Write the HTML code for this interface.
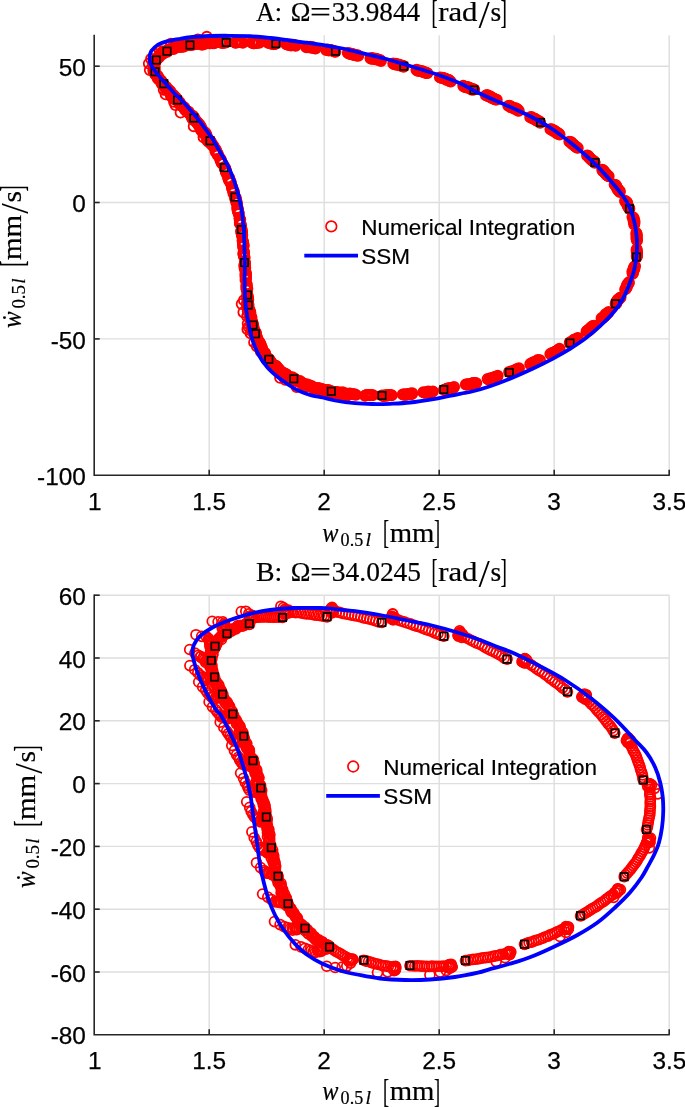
<!DOCTYPE html>
<html lang="en"><head><meta charset="utf-8"><title>Phase portraits</title>
<style>html,body{margin:0;padding:0;background:#fff}svg{display:block}</style></head>
<body>
<svg width="685" height="1107" viewBox="0 0 685 1107">
<rect width="685" height="1107" fill="#fff"/>
<g stroke="#dedede" stroke-width="1.4">
<line x1="209.2" y1="35.3" x2="209.2" y2="475.3"/>
<line x1="324.2" y1="35.3" x2="324.2" y2="475.3"/>
<line x1="439.2" y1="35.3" x2="439.2" y2="475.3"/>
<line x1="554.2" y1="35.3" x2="554.2" y2="475.3"/>
<line x1="669.2" y1="35.3" x2="669.2" y2="475.3"/>
<line x1="94.2" y1="66.2" x2="669.2" y2="66.2"/>
<line x1="94.2" y1="202.5" x2="669.2" y2="202.5"/>
<line x1="94.2" y1="338.9" x2="669.2" y2="338.9"/>
</g>
<g stroke="#262626" stroke-width="1.6" fill="none">
<path d="M94.2 34.7V475.3H669.8"/>
<line x1="209.2" y1="475.3" x2="209.2" y2="469.8"/>
<line x1="324.2" y1="475.3" x2="324.2" y2="469.8"/>
<line x1="439.2" y1="475.3" x2="439.2" y2="469.8"/>
<line x1="554.2" y1="475.3" x2="554.2" y2="469.8"/>
<line x1="669.2" y1="475.3" x2="669.2" y2="469.8"/>
<line x1="94.2" y1="66.2" x2="99.7" y2="66.2"/>
<line x1="94.2" y1="202.5" x2="99.7" y2="202.5"/>
<line x1="94.2" y1="338.9" x2="99.7" y2="338.9"/>
</g>
<clipPath id="ca"><rect x="94.2" y="28.3" width="575.0" height="447.0"/></clipPath>
<g clip-path="url(#ca)">
<g fill="none" stroke="#f00" stroke-width="1.8">
<circle cx="157.0" cy="59.3" r="5.05"/>
<circle cx="157.3" cy="58.4" r="5.05"/>
<circle cx="157.6" cy="57.5" r="5.05"/>
<circle cx="158.7" cy="57.2" r="5.05"/>
<circle cx="159.5" cy="56.7" r="5.05"/>
<circle cx="154.9" cy="53.8" r="5.05"/>
<circle cx="159.6" cy="55.5" r="5.05"/>
<circle cx="160.1" cy="54.5" r="5.05"/>
<circle cx="160.6" cy="53.6" r="5.05"/>
<circle cx="161.8" cy="53.5" r="5.05"/>
<circle cx="163.1" cy="53.9" r="5.05"/>
<circle cx="159.7" cy="50.9" r="5.05"/>
<circle cx="162.8" cy="51.5" r="5.05"/>
<circle cx="164.2" cy="52.0" r="5.05"/>
<circle cx="165.1" cy="51.6" r="5.05"/>
<circle cx="166.2" cy="51.7" r="5.05"/>
<circle cx="167.2" cy="51.7" r="5.05"/>
<circle cx="166.9" cy="50.9" r="5.05"/>
<circle cx="167.6" cy="50.1" r="5.05"/>
<circle cx="168.4" cy="49.4" r="5.05"/>
<circle cx="169.6" cy="49.7" r="5.05"/>
<circle cx="170.5" cy="49.2" r="5.05"/>
<circle cx="171.3" cy="48.4" r="5.05"/>
<circle cx="172.4" cy="48.7" r="5.05"/>
<circle cx="173.6" cy="49.1" r="5.05"/>
<circle cx="174.4" cy="48.2" r="5.05"/>
<circle cx="171.0" cy="43.8" r="5.05"/>
<circle cx="174.0" cy="47.0" r="5.05"/>
<circle cx="175.2" cy="47.4" r="5.05"/>
<circle cx="176.0" cy="46.7" r="5.05"/>
<circle cx="177.2" cy="47.0" r="5.05"/>
<circle cx="177.9" cy="45.8" r="5.05"/>
<circle cx="179.1" cy="46.6" r="5.05"/>
<circle cx="180.3" cy="47.0" r="5.05"/>
<circle cx="181.1" cy="46.2" r="5.05"/>
<circle cx="182.1" cy="46.1" r="5.05"/>
<circle cx="176.0" cy="44.3" r="5.05"/>
<circle cx="182.2" cy="46.5" r="5.05"/>
<circle cx="183.3" cy="46.9" r="5.05"/>
<circle cx="184.1" cy="45.8" r="5.05"/>
<circle cx="185.1" cy="45.7" r="5.05"/>
<circle cx="186.0" cy="45.3" r="5.05"/>
<circle cx="187.0" cy="45.1" r="5.05"/>
<circle cx="187.9" cy="44.4" r="5.05"/>
<circle cx="188.9" cy="44.7" r="5.05"/>
<circle cx="190.0" cy="45.1" r="5.05"/>
<circle cx="189.9" cy="44.5" r="5.05"/>
<circle cx="191.0" cy="45.1" r="5.05"/>
<circle cx="191.8" cy="44.3" r="5.05"/>
<circle cx="192.7" cy="44.3" r="5.05"/>
<circle cx="193.7" cy="44.6" r="5.05"/>
<circle cx="194.6" cy="43.8" r="5.05"/>
<circle cx="195.4" cy="42.9" r="5.05"/>
<circle cx="196.4" cy="43.5" r="5.05"/>
<circle cx="197.4" cy="44.0" r="5.05"/>
<circle cx="198.2" cy="42.9" r="5.05"/>
<circle cx="199.2" cy="43.0" r="5.05"/>
<circle cx="200.2" cy="43.8" r="5.05"/>
<circle cx="201.1" cy="44.1" r="5.05"/>
<circle cx="202.1" cy="44.1" r="5.05"/>
<circle cx="197.8" cy="39.5" r="5.05"/>
<circle cx="202.1" cy="44.7" r="5.05"/>
<circle cx="203.0" cy="44.1" r="5.05"/>
<circle cx="203.9" cy="44.0" r="5.05"/>
<circle cx="204.7" cy="41.9" r="5.05"/>
<circle cx="205.8" cy="43.6" r="5.05"/>
<circle cx="206.7" cy="43.1" r="5.05"/>
<circle cx="207.6" cy="42.6" r="5.05"/>
<circle cx="208.5" cy="42.1" r="5.05"/>
<circle cx="209.5" cy="43.2" r="5.05"/>
<circle cx="210.4" cy="43.4" r="5.05"/>
<circle cx="211.3" cy="42.8" r="5.05"/>
<circle cx="212.3" cy="43.4" r="5.05"/>
<circle cx="213.2" cy="42.3" r="5.05"/>
<circle cx="214.2" cy="43.3" r="5.05"/>
<circle cx="206.8" cy="36.8" r="5.05"/>
<circle cx="219.7" cy="42.2" r="5.05"/>
<circle cx="220.7" cy="42.4" r="5.05"/>
<circle cx="221.6" cy="42.9" r="5.05"/>
<circle cx="222.5" cy="42.7" r="5.05"/>
<circle cx="223.5" cy="42.9" r="5.05"/>
<circle cx="224.4" cy="42.2" r="5.05"/>
<circle cx="225.3" cy="42.5" r="5.05"/>
<circle cx="226.2" cy="42.2" r="5.05"/>
<circle cx="235.0" cy="42.6" r="5.05"/>
<circle cx="236.0" cy="42.7" r="5.05"/>
<circle cx="236.9" cy="42.0" r="5.05"/>
<circle cx="237.9" cy="41.8" r="5.05"/>
<circle cx="238.9" cy="42.0" r="5.05"/>
<circle cx="239.9" cy="42.0" r="5.05"/>
<circle cx="240.8" cy="42.0" r="5.05"/>
<circle cx="241.8" cy="42.1" r="5.05"/>
<circle cx="242.8" cy="42.7" r="5.05"/>
<circle cx="251.5" cy="42.5" r="5.05"/>
<circle cx="252.5" cy="42.7" r="5.05"/>
<circle cx="253.4" cy="43.2" r="5.05"/>
<circle cx="254.4" cy="43.2" r="5.05"/>
<circle cx="255.4" cy="42.9" r="5.05"/>
<circle cx="256.4" cy="43.0" r="5.05"/>
<circle cx="257.3" cy="42.5" r="5.05"/>
<circle cx="258.3" cy="42.2" r="5.05"/>
<circle cx="259.3" cy="42.8" r="5.05"/>
<circle cx="268.0" cy="42.7" r="5.05"/>
<circle cx="269.0" cy="42.7" r="5.05"/>
<circle cx="270.0" cy="42.8" r="5.05"/>
<circle cx="270.9" cy="43.6" r="5.05"/>
<circle cx="271.9" cy="43.8" r="5.05"/>
<circle cx="272.8" cy="43.9" r="5.05"/>
<circle cx="273.8" cy="44.0" r="5.05"/>
<circle cx="274.8" cy="44.0" r="5.05"/>
<circle cx="275.8" cy="43.6" r="5.05"/>
<circle cx="286.4" cy="44.2" r="5.05"/>
<circle cx="287.3" cy="44.4" r="5.05"/>
<circle cx="288.2" cy="44.9" r="5.05"/>
<circle cx="289.2" cy="44.8" r="5.05"/>
<circle cx="290.1" cy="44.7" r="5.05"/>
<circle cx="291.0" cy="45.6" r="5.05"/>
<circle cx="292.0" cy="45.0" r="5.05"/>
<circle cx="293.0" cy="44.8" r="5.05"/>
<circle cx="293.9" cy="45.1" r="5.05"/>
<circle cx="294.8" cy="45.2" r="5.05"/>
<circle cx="295.7" cy="45.7" r="5.05"/>
<circle cx="306.3" cy="47.3" r="5.05"/>
<circle cx="307.3" cy="46.6" r="5.05"/>
<circle cx="308.2" cy="47.3" r="5.05"/>
<circle cx="309.2" cy="46.9" r="5.05"/>
<circle cx="310.1" cy="46.8" r="5.05"/>
<circle cx="311.0" cy="47.6" r="5.05"/>
<circle cx="311.9" cy="47.7" r="5.05"/>
<circle cx="312.9" cy="47.2" r="5.05"/>
<circle cx="313.8" cy="47.6" r="5.05"/>
<circle cx="314.7" cy="48.4" r="5.05"/>
<circle cx="315.6" cy="48.6" r="5.05"/>
<circle cx="326.1" cy="50.1" r="5.05"/>
<circle cx="327.2" cy="49.4" r="5.05"/>
<circle cx="328.1" cy="49.6" r="5.05"/>
<circle cx="328.9" cy="50.6" r="5.05"/>
<circle cx="330.0" cy="49.9" r="5.05"/>
<circle cx="330.9" cy="49.9" r="5.05"/>
<circle cx="331.8" cy="50.4" r="5.05"/>
<circle cx="332.7" cy="50.9" r="5.05"/>
<circle cx="333.7" cy="50.9" r="5.05"/>
<circle cx="334.5" cy="51.5" r="5.05"/>
<circle cx="335.4" cy="51.8" r="5.05"/>
<circle cx="347.8" cy="52.9" r="5.05"/>
<circle cx="348.6" cy="53.4" r="5.05"/>
<circle cx="349.5" cy="53.8" r="5.05"/>
<circle cx="350.4" cy="53.5" r="5.05"/>
<circle cx="351.2" cy="54.2" r="5.05"/>
<circle cx="352.2" cy="53.9" r="5.05"/>
<circle cx="353.1" cy="54.1" r="5.05"/>
<circle cx="353.9" cy="55.0" r="5.05"/>
<circle cx="354.8" cy="55.1" r="5.05"/>
<circle cx="355.7" cy="55.3" r="5.05"/>
<circle cx="356.6" cy="55.5" r="5.05"/>
<circle cx="357.5" cy="55.3" r="5.05"/>
<circle cx="358.3" cy="55.8" r="5.05"/>
<circle cx="370.5" cy="58.2" r="5.05"/>
<circle cx="371.3" cy="58.7" r="5.05"/>
<circle cx="372.4" cy="58.0" r="5.05"/>
<circle cx="373.1" cy="58.8" r="5.05"/>
<circle cx="374.0" cy="58.9" r="5.05"/>
<circle cx="375.0" cy="58.9" r="5.05"/>
<circle cx="375.9" cy="58.8" r="5.05"/>
<circle cx="376.7" cy="59.5" r="5.05"/>
<circle cx="377.7" cy="59.2" r="5.05"/>
<circle cx="378.5" cy="59.9" r="5.05"/>
<circle cx="379.4" cy="60.0" r="5.05"/>
<circle cx="380.3" cy="60.2" r="5.05"/>
<circle cx="381.0" cy="61.0" r="5.05"/>
<circle cx="393.2" cy="63.5" r="5.05"/>
<circle cx="394.0" cy="64.0" r="5.05"/>
<circle cx="394.8" cy="64.4" r="5.05"/>
<circle cx="395.9" cy="63.8" r="5.05"/>
<circle cx="396.6" cy="64.7" r="5.05"/>
<circle cx="397.6" cy="64.6" r="5.05"/>
<circle cx="398.5" cy="64.5" r="5.05"/>
<circle cx="399.4" cy="65.0" r="5.05"/>
<circle cx="400.2" cy="65.5" r="5.05"/>
<circle cx="401.1" cy="65.5" r="5.05"/>
<circle cx="402.0" cy="65.7" r="5.05"/>
<circle cx="403.0" cy="65.7" r="5.05"/>
<circle cx="403.6" cy="66.7" r="5.05"/>
<circle cx="416.4" cy="69.8" r="5.05"/>
<circle cx="417.2" cy="70.5" r="5.05"/>
<circle cx="418.1" cy="70.7" r="5.05"/>
<circle cx="419.2" cy="70.4" r="5.05"/>
<circle cx="420.1" cy="71.0" r="5.05"/>
<circle cx="421.0" cy="71.2" r="5.05"/>
<circle cx="422.0" cy="71.3" r="5.05"/>
<circle cx="423.0" cy="71.4" r="5.05"/>
<circle cx="423.7" cy="72.2" r="5.05"/>
<circle cx="424.7" cy="72.3" r="5.05"/>
<circle cx="425.6" cy="72.7" r="5.05"/>
<circle cx="426.5" cy="73.0" r="5.05"/>
<circle cx="427.5" cy="73.1" r="5.05"/>
<circle cx="439.9" cy="77.4" r="5.05"/>
<circle cx="440.9" cy="77.6" r="5.05"/>
<circle cx="441.7" cy="78.0" r="5.05"/>
<circle cx="442.8" cy="77.8" r="5.05"/>
<circle cx="443.7" cy="78.4" r="5.05"/>
<circle cx="444.7" cy="78.5" r="5.05"/>
<circle cx="445.6" cy="78.7" r="5.05"/>
<circle cx="446.2" cy="79.8" r="5.05"/>
<circle cx="447.3" cy="79.8" r="5.05"/>
<circle cx="448.3" cy="79.7" r="5.05"/>
<circle cx="449.2" cy="80.1" r="5.05"/>
<circle cx="449.8" cy="81.2" r="5.05"/>
<circle cx="450.8" cy="81.6" r="5.05"/>
<circle cx="463.2" cy="85.8" r="5.05"/>
<circle cx="463.9" cy="86.5" r="5.05"/>
<circle cx="464.9" cy="86.7" r="5.05"/>
<circle cx="465.7" cy="87.2" r="5.05"/>
<circle cx="466.9" cy="86.9" r="5.05"/>
<circle cx="467.8" cy="87.1" r="5.05"/>
<circle cx="468.8" cy="87.4" r="5.05"/>
<circle cx="469.4" cy="88.6" r="5.05"/>
<circle cx="470.5" cy="88.3" r="5.05"/>
<circle cx="471.4" cy="88.7" r="5.05"/>
<circle cx="472.0" cy="89.7" r="5.05"/>
<circle cx="473.3" cy="89.2" r="5.05"/>
<circle cx="474.2" cy="89.5" r="5.05"/>
<circle cx="485.9" cy="95.4" r="5.05"/>
<circle cx="487.2" cy="95.0" r="5.05"/>
<circle cx="487.8" cy="96.0" r="5.05"/>
<circle cx="488.7" cy="96.3" r="5.05"/>
<circle cx="489.8" cy="96.1" r="5.05"/>
<circle cx="490.6" cy="96.7" r="5.05"/>
<circle cx="491.2" cy="97.8" r="5.05"/>
<circle cx="492.2" cy="97.9" r="5.05"/>
<circle cx="493.1" cy="98.2" r="5.05"/>
<circle cx="493.9" cy="98.8" r="5.05"/>
<circle cx="494.8" cy="99.3" r="5.05"/>
<circle cx="495.7" cy="99.6" r="5.05"/>
<circle cx="496.8" cy="99.6" r="5.05"/>
<circle cx="508.3" cy="105.9" r="5.05"/>
<circle cx="509.4" cy="105.7" r="5.05"/>
<circle cx="510.2" cy="106.3" r="5.05"/>
<circle cx="510.9" cy="107.2" r="5.05"/>
<circle cx="511.9" cy="107.2" r="5.05"/>
<circle cx="512.9" cy="107.4" r="5.05"/>
<circle cx="513.7" cy="107.9" r="5.05"/>
<circle cx="514.3" cy="108.8" r="5.05"/>
<circle cx="515.7" cy="108.3" r="5.05"/>
<circle cx="516.5" cy="108.9" r="5.05"/>
<circle cx="517.4" cy="109.2" r="5.05"/>
<circle cx="517.8" cy="110.5" r="5.05"/>
<circle cx="518.8" cy="110.8" r="5.05"/>
<circle cx="530.2" cy="117.2" r="5.05"/>
<circle cx="531.5" cy="116.9" r="5.05"/>
<circle cx="532.0" cy="117.9" r="5.05"/>
<circle cx="532.8" cy="118.5" r="5.05"/>
<circle cx="533.8" cy="118.7" r="5.05"/>
<circle cx="534.9" cy="118.7" r="5.05"/>
<circle cx="535.7" cy="119.2" r="5.05"/>
<circle cx="536.2" cy="120.3" r="5.05"/>
<circle cx="537.0" cy="120.9" r="5.05"/>
<circle cx="538.3" cy="120.6" r="5.05"/>
<circle cx="538.9" cy="121.4" r="5.05"/>
<circle cx="539.8" cy="121.8" r="5.05"/>
<circle cx="540.2" cy="122.9" r="5.05"/>
<circle cx="550.4" cy="129.2" r="5.05"/>
<circle cx="551.6" cy="129.1" r="5.05"/>
<circle cx="552.3" cy="129.9" r="5.05"/>
<circle cx="552.9" cy="130.8" r="5.05"/>
<circle cx="554.2" cy="130.4" r="5.05"/>
<circle cx="554.8" cy="131.2" r="5.05"/>
<circle cx="555.8" cy="131.6" r="5.05"/>
<circle cx="556.1" cy="132.9" r="5.05"/>
<circle cx="557.4" cy="132.6" r="5.05"/>
<circle cx="557.7" cy="133.9" r="5.05"/>
<circle cx="559.0" cy="133.7" r="5.05"/>
<circle cx="559.6" cy="134.6" r="5.05"/>
<circle cx="569.3" cy="141.6" r="5.05"/>
<circle cx="570.2" cy="141.9" r="5.05"/>
<circle cx="571.3" cy="142.1" r="5.05"/>
<circle cx="571.6" cy="143.3" r="5.05"/>
<circle cx="572.3" cy="144.0" r="5.05"/>
<circle cx="573.3" cy="144.2" r="5.05"/>
<circle cx="573.9" cy="145.1" r="5.05"/>
<circle cx="574.6" cy="145.8" r="5.05"/>
<circle cx="575.4" cy="146.3" r="5.05"/>
<circle cx="576.1" cy="147.0" r="5.05"/>
<circle cx="576.9" cy="147.5" r="5.05"/>
<circle cx="577.8" cy="147.9" r="5.05"/>
<circle cx="587.0" cy="155.5" r="5.05"/>
<circle cx="588.1" cy="155.7" r="5.05"/>
<circle cx="588.5" cy="156.8" r="5.05"/>
<circle cx="589.3" cy="157.3" r="5.05"/>
<circle cx="589.8" cy="158.2" r="5.05"/>
<circle cx="590.7" cy="158.7" r="5.05"/>
<circle cx="591.1" cy="159.6" r="5.05"/>
<circle cx="592.0" cy="160.1" r="5.05"/>
<circle cx="592.5" cy="160.9" r="5.05"/>
<circle cx="593.8" cy="161.0" r="5.05"/>
<circle cx="594.3" cy="161.8" r="5.05"/>
<circle cx="594.7" cy="162.8" r="5.05"/>
<circle cx="602.2" cy="169.8" r="5.05"/>
<circle cx="603.2" cy="170.1" r="5.05"/>
<circle cx="603.1" cy="171.4" r="5.05"/>
<circle cx="604.3" cy="171.5" r="5.05"/>
<circle cx="604.6" cy="172.5" r="5.05"/>
<circle cx="605.3" cy="173.1" r="5.05"/>
<circle cx="606.2" cy="173.6" r="5.05"/>
<circle cx="606.4" cy="174.6" r="5.05"/>
<circle cx="607.1" cy="175.2" r="5.05"/>
<circle cx="607.9" cy="175.7" r="5.05"/>
<circle cx="608.7" cy="176.2" r="5.05"/>
<circle cx="614.6" cy="184.6" r="5.05"/>
<circle cx="615.6" cy="185.0" r="5.05"/>
<circle cx="616.1" cy="185.8" r="5.05"/>
<circle cx="616.5" cy="186.6" r="5.05"/>
<circle cx="616.8" cy="187.5" r="5.05"/>
<circle cx="617.3" cy="188.3" r="5.05"/>
<circle cx="617.6" cy="189.2" r="5.05"/>
<circle cx="618.2" cy="189.9" r="5.05"/>
<circle cx="618.6" cy="190.7" r="5.05"/>
<circle cx="619.8" cy="191.0" r="5.05"/>
<circle cx="619.8" cy="192.1" r="5.05"/>
<circle cx="625.1" cy="200.8" r="5.05"/>
<circle cx="625.4" cy="201.7" r="5.05"/>
<circle cx="626.7" cy="202.0" r="5.05"/>
<circle cx="627.1" cy="202.8" r="5.05"/>
<circle cx="627.3" cy="203.7" r="5.05"/>
<circle cx="627.3" cy="204.8" r="5.05"/>
<circle cx="627.7" cy="205.6" r="5.05"/>
<circle cx="628.1" cy="206.4" r="5.05"/>
<circle cx="628.7" cy="207.1" r="5.05"/>
<circle cx="628.8" cy="208.1" r="5.05"/>
<circle cx="629.4" cy="208.8" r="5.05"/>
<circle cx="632.4" cy="217.0" r="5.05"/>
<circle cx="633.5" cy="217.6" r="5.05"/>
<circle cx="633.8" cy="218.6" r="5.05"/>
<circle cx="633.6" cy="219.6" r="5.05"/>
<circle cx="633.5" cy="220.7" r="5.05"/>
<circle cx="634.6" cy="221.4" r="5.05"/>
<circle cx="634.1" cy="222.5" r="5.05"/>
<circle cx="634.4" cy="223.4" r="5.05"/>
<circle cx="634.2" cy="224.5" r="5.05"/>
<circle cx="636.3" cy="232.9" r="5.05"/>
<circle cx="636.6" cy="233.8" r="5.05"/>
<circle cx="636.7" cy="234.8" r="5.05"/>
<circle cx="636.5" cy="235.8" r="5.05"/>
<circle cx="636.9" cy="236.7" r="5.05"/>
<circle cx="636.4" cy="237.7" r="5.05"/>
<circle cx="636.8" cy="238.7" r="5.05"/>
<circle cx="636.7" cy="239.6" r="5.05"/>
<circle cx="637.1" cy="240.6" r="5.05"/>
<circle cx="636.7" cy="249.3" r="5.05"/>
<circle cx="636.6" cy="250.2" r="5.05"/>
<circle cx="636.9" cy="251.2" r="5.05"/>
<circle cx="636.7" cy="252.2" r="5.05"/>
<circle cx="637.1" cy="253.2" r="5.05"/>
<circle cx="636.9" cy="254.1" r="5.05"/>
<circle cx="637.1" cy="255.1" r="5.05"/>
<circle cx="636.8" cy="256.1" r="5.05"/>
<circle cx="636.8" cy="257.0" r="5.05"/>
<circle cx="635.1" cy="266.1" r="5.05"/>
<circle cx="634.3" cy="266.8" r="5.05"/>
<circle cx="634.0" cy="267.6" r="5.05"/>
<circle cx="634.5" cy="268.7" r="5.05"/>
<circle cx="633.3" cy="269.3" r="5.05"/>
<circle cx="633.6" cy="270.4" r="5.05"/>
<circle cx="633.3" cy="271.2" r="5.05"/>
<circle cx="632.3" cy="271.8" r="5.05"/>
<circle cx="632.9" cy="273.0" r="5.05"/>
<circle cx="632.7" cy="273.9" r="5.05"/>
<circle cx="628.9" cy="282.2" r="5.05"/>
<circle cx="628.6" cy="283.1" r="5.05"/>
<circle cx="628.3" cy="283.9" r="5.05"/>
<circle cx="627.2" cy="284.4" r="5.05"/>
<circle cx="627.2" cy="285.4" r="5.05"/>
<circle cx="626.7" cy="286.2" r="5.05"/>
<circle cx="626.7" cy="287.2" r="5.05"/>
<circle cx="626.2" cy="288.0" r="5.05"/>
<circle cx="625.8" cy="288.8" r="5.05"/>
<circle cx="625.1" cy="289.4" r="5.05"/>
<circle cx="620.6" cy="297.4" r="5.05"/>
<circle cx="619.9" cy="298.0" r="5.05"/>
<circle cx="619.4" cy="298.8" r="5.05"/>
<circle cx="618.4" cy="299.2" r="5.05"/>
<circle cx="617.7" cy="299.8" r="5.05"/>
<circle cx="617.3" cy="300.6" r="5.05"/>
<circle cx="617.0" cy="301.5" r="5.05"/>
<circle cx="616.2" cy="302.0" r="5.05"/>
<circle cx="616.4" cy="303.3" r="5.05"/>
<circle cx="615.6" cy="303.8" r="5.05"/>
<circle cx="608.7" cy="312.0" r="5.05"/>
<circle cx="608.0" cy="312.6" r="5.05"/>
<circle cx="607.4" cy="313.4" r="5.05"/>
<circle cx="606.6" cy="313.9" r="5.05"/>
<circle cx="605.5" cy="314.2" r="5.05"/>
<circle cx="605.5" cy="315.5" r="5.05"/>
<circle cx="604.8" cy="316.1" r="5.05"/>
<circle cx="603.9" cy="316.6" r="5.05"/>
<circle cx="603.3" cy="317.3" r="5.05"/>
<circle cx="602.7" cy="318.0" r="5.05"/>
<circle cx="601.5" cy="318.2" r="5.05"/>
<circle cx="594.1" cy="325.8" r="5.05"/>
<circle cx="593.0" cy="326.0" r="5.05"/>
<circle cx="592.1" cy="326.4" r="5.05"/>
<circle cx="591.5" cy="327.2" r="5.05"/>
<circle cx="591.1" cy="328.2" r="5.05"/>
<circle cx="590.0" cy="328.3" r="5.05"/>
<circle cx="589.7" cy="329.4" r="5.05"/>
<circle cx="589.1" cy="330.2" r="5.05"/>
<circle cx="588.0" cy="330.3" r="5.05"/>
<circle cx="587.1" cy="330.8" r="5.05"/>
<circle cx="586.5" cy="331.4" r="5.05"/>
<circle cx="578.0" cy="337.9" r="5.05"/>
<circle cx="577.3" cy="338.5" r="5.05"/>
<circle cx="576.4" cy="338.9" r="5.05"/>
<circle cx="575.6" cy="339.5" r="5.05"/>
<circle cx="574.4" cy="339.5" r="5.05"/>
<circle cx="573.7" cy="340.0" r="5.05"/>
<circle cx="573.0" cy="340.7" r="5.05"/>
<circle cx="572.5" cy="341.7" r="5.05"/>
<circle cx="571.5" cy="341.8" r="5.05"/>
<circle cx="570.8" cy="342.6" r="5.05"/>
<circle cx="569.7" cy="342.5" r="5.05"/>
<circle cx="559.5" cy="348.8" r="5.05"/>
<circle cx="558.8" cy="349.5" r="5.05"/>
<circle cx="558.2" cy="350.3" r="5.05"/>
<circle cx="557.4" cy="350.8" r="5.05"/>
<circle cx="556.5" cy="351.3" r="5.05"/>
<circle cx="555.5" cy="351.4" r="5.05"/>
<circle cx="554.8" cy="352.1" r="5.05"/>
<circle cx="553.9" cy="352.5" r="5.05"/>
<circle cx="553.0" cy="352.9" r="5.05"/>
<circle cx="552.0" cy="353.0" r="5.05"/>
<circle cx="551.6" cy="354.3" r="5.05"/>
<circle cx="550.3" cy="354.0" r="5.05"/>
<circle cx="540.0" cy="360.2" r="5.05"/>
<circle cx="539.2" cy="360.5" r="5.05"/>
<circle cx="537.8" cy="360.0" r="5.05"/>
<circle cx="537.2" cy="360.8" r="5.05"/>
<circle cx="536.5" cy="361.6" r="5.05"/>
<circle cx="535.7" cy="362.2" r="5.05"/>
<circle cx="534.5" cy="362.0" r="5.05"/>
<circle cx="533.6" cy="362.2" r="5.05"/>
<circle cx="532.7" cy="362.6" r="5.05"/>
<circle cx="532.1" cy="363.8" r="5.05"/>
<circle cx="530.9" cy="363.4" r="5.05"/>
<circle cx="530.2" cy="364.2" r="5.05"/>
<circle cx="519.0" cy="368.3" r="5.05"/>
<circle cx="518.3" cy="369.1" r="5.05"/>
<circle cx="517.6" cy="369.9" r="5.05"/>
<circle cx="516.3" cy="369.3" r="5.05"/>
<circle cx="515.7" cy="370.5" r="5.05"/>
<circle cx="514.7" cy="370.5" r="5.05"/>
<circle cx="513.9" cy="371.2" r="5.05"/>
<circle cx="512.9" cy="371.4" r="5.05"/>
<circle cx="511.8" cy="371.2" r="5.05"/>
<circle cx="511.2" cy="372.3" r="5.05"/>
<circle cx="510.1" cy="372.1" r="5.05"/>
<circle cx="509.1" cy="372.0" r="5.05"/>
<circle cx="497.7" cy="375.8" r="5.05"/>
<circle cx="497.0" cy="376.7" r="5.05"/>
<circle cx="496.1" cy="376.9" r="5.05"/>
<circle cx="495.1" cy="377.0" r="5.05"/>
<circle cx="494.1" cy="377.1" r="5.05"/>
<circle cx="493.3" cy="377.6" r="5.05"/>
<circle cx="492.3" cy="377.9" r="5.05"/>
<circle cx="491.6" cy="378.8" r="5.05"/>
<circle cx="490.4" cy="378.1" r="5.05"/>
<circle cx="489.7" cy="379.2" r="5.05"/>
<circle cx="488.8" cy="379.6" r="5.05"/>
<circle cx="487.6" cy="379.0" r="5.05"/>
<circle cx="476.3" cy="383.1" r="5.05"/>
<circle cx="475.3" cy="383.0" r="5.05"/>
<circle cx="474.5" cy="383.5" r="5.05"/>
<circle cx="473.3" cy="383.0" r="5.05"/>
<circle cx="472.4" cy="383.3" r="5.05"/>
<circle cx="471.5" cy="383.6" r="5.05"/>
<circle cx="470.7" cy="384.5" r="5.05"/>
<circle cx="469.7" cy="384.3" r="5.05"/>
<circle cx="468.7" cy="384.2" r="5.05"/>
<circle cx="467.7" cy="384.5" r="5.05"/>
<circle cx="466.8" cy="384.5" r="5.05"/>
<circle cx="465.8" cy="384.5" r="5.05"/>
<circle cx="454.1" cy="387.0" r="5.05"/>
<circle cx="453.3" cy="388.1" r="5.05"/>
<circle cx="452.2" cy="387.6" r="5.05"/>
<circle cx="451.4" cy="388.6" r="5.05"/>
<circle cx="450.3" cy="388.0" r="5.05"/>
<circle cx="449.4" cy="388.2" r="5.05"/>
<circle cx="448.5" cy="388.6" r="5.05"/>
<circle cx="447.5" cy="388.4" r="5.05"/>
<circle cx="446.6" cy="388.8" r="5.05"/>
<circle cx="445.7" cy="389.7" r="5.05"/>
<circle cx="444.8" cy="389.8" r="5.05"/>
<circle cx="443.8" cy="389.9" r="5.05"/>
<circle cx="432.9" cy="391.4" r="5.05"/>
<circle cx="432.0" cy="391.9" r="5.05"/>
<circle cx="431.1" cy="392.1" r="5.05"/>
<circle cx="430.0" cy="391.8" r="5.05"/>
<circle cx="429.1" cy="392.1" r="5.05"/>
<circle cx="428.0" cy="391.4" r="5.05"/>
<circle cx="427.2" cy="392.4" r="5.05"/>
<circle cx="426.2" cy="392.2" r="5.05"/>
<circle cx="425.3" cy="392.7" r="5.05"/>
<circle cx="424.3" cy="392.6" r="5.05"/>
<circle cx="423.3" cy="392.3" r="5.05"/>
<circle cx="412.3" cy="393.2" r="5.05"/>
<circle cx="411.5" cy="394.4" r="5.05"/>
<circle cx="410.4" cy="393.5" r="5.05"/>
<circle cx="409.5" cy="394.0" r="5.05"/>
<circle cx="408.5" cy="394.0" r="5.05"/>
<circle cx="407.5" cy="394.0" r="5.05"/>
<circle cx="406.6" cy="394.6" r="5.05"/>
<circle cx="405.6" cy="394.9" r="5.05"/>
<circle cx="404.6" cy="394.2" r="5.05"/>
<circle cx="403.7" cy="394.7" r="5.05"/>
<circle cx="402.7" cy="394.4" r="5.05"/>
<circle cx="391.7" cy="395.3" r="5.05"/>
<circle cx="390.7" cy="395.1" r="5.05"/>
<circle cx="389.8" cy="394.9" r="5.05"/>
<circle cx="388.8" cy="394.9" r="5.05"/>
<circle cx="387.8" cy="395.0" r="5.05"/>
<circle cx="386.9" cy="395.9" r="5.05"/>
<circle cx="385.9" cy="395.4" r="5.05"/>
<circle cx="384.9" cy="395.1" r="5.05"/>
<circle cx="384.0" cy="396.0" r="5.05"/>
<circle cx="383.0" cy="396.1" r="5.05"/>
<circle cx="382.0" cy="395.4" r="5.05"/>
<circle cx="373.0" cy="395.1" r="5.05"/>
<circle cx="372.0" cy="395.1" r="5.05"/>
<circle cx="371.0" cy="394.9" r="5.05"/>
<circle cx="370.0" cy="395.2" r="5.05"/>
<circle cx="369.0" cy="394.9" r="5.05"/>
<circle cx="368.0" cy="395.0" r="5.05"/>
<circle cx="367.0" cy="395.0" r="5.05"/>
<circle cx="366.0" cy="395.3" r="5.05"/>
<circle cx="365.0" cy="395.7" r="5.05"/>
<circle cx="356.0" cy="394.9" r="5.05"/>
<circle cx="355.0" cy="394.4" r="5.05"/>
<circle cx="354.0" cy="394.3" r="5.05"/>
<circle cx="353.0" cy="394.4" r="5.05"/>
<circle cx="352.0" cy="394.1" r="5.05"/>
<circle cx="351.1" cy="393.9" r="5.05"/>
<circle cx="350.1" cy="393.5" r="5.05"/>
<circle cx="349.1" cy="393.7" r="5.05"/>
<circle cx="348.0" cy="394.4" r="5.05"/>
<circle cx="348.0" cy="394.4" r="5.05"/>
<circle cx="346.9" cy="395.8" r="5.05"/>
<circle cx="346.2" cy="393.5" r="5.05"/>
<circle cx="345.2" cy="393.7" r="5.05"/>
<circle cx="344.1" cy="395.1" r="5.05"/>
<circle cx="343.1" cy="395.1" r="5.05"/>
<circle cx="342.6" cy="392.3" r="5.05"/>
<circle cx="341.3" cy="394.5" r="5.05"/>
<circle cx="340.5" cy="393.5" r="5.05"/>
<circle cx="339.7" cy="392.4" r="5.05"/>
<circle cx="338.5" cy="393.9" r="5.05"/>
<circle cx="337.5" cy="393.7" r="5.05"/>
<circle cx="336.9" cy="391.9" r="5.05"/>
<circle cx="335.9" cy="392.0" r="5.05"/>
<circle cx="334.8" cy="392.6" r="5.05"/>
<circle cx="333.9" cy="392.3" r="5.05"/>
<circle cx="333.0" cy="392.0" r="5.05"/>
<circle cx="332.2" cy="391.5" r="5.05"/>
<circle cx="331.2" cy="391.6" r="5.05"/>
<circle cx="331.1" cy="391.8" r="5.05"/>
<circle cx="330.4" cy="390.9" r="5.05"/>
<circle cx="329.1" cy="392.4" r="5.05"/>
<circle cx="328.6" cy="390.0" r="5.05"/>
<circle cx="327.4" cy="391.4" r="5.05"/>
<circle cx="326.6" cy="390.3" r="5.05"/>
<circle cx="325.7" cy="390.0" r="5.05"/>
<circle cx="324.7" cy="390.1" r="5.05"/>
<circle cx="323.6" cy="390.8" r="5.05"/>
<circle cx="322.8" cy="390.2" r="5.05"/>
<circle cx="322.1" cy="389.0" r="5.05"/>
<circle cx="320.9" cy="389.9" r="5.05"/>
<circle cx="320.3" cy="388.5" r="5.05"/>
<circle cx="319.3" cy="388.6" r="5.05"/>
<circle cx="318.4" cy="388.2" r="5.05"/>
<circle cx="318.2" cy="388.9" r="5.05"/>
<circle cx="317.5" cy="387.9" r="5.05"/>
<circle cx="316.2" cy="388.9" r="5.05"/>
<circle cx="315.3" cy="388.5" r="5.05"/>
<circle cx="314.5" cy="388.2" r="5.05"/>
<circle cx="313.5" cy="388.1" r="5.05"/>
<circle cx="312.7" cy="387.5" r="5.05"/>
<circle cx="312.1" cy="386.1" r="5.05"/>
<circle cx="311.0" cy="386.5" r="5.05"/>
<circle cx="310.0" cy="386.6" r="5.05"/>
<circle cx="309.5" cy="385.1" r="5.05"/>
<circle cx="308.4" cy="385.3" r="5.05"/>
<circle cx="307.4" cy="385.3" r="5.05"/>
<circle cx="306.7" cy="384.3" r="5.05"/>
<circle cx="305.6" cy="384.7" r="5.05"/>
<circle cx="307.2" cy="389.6" r="5.05"/>
<circle cx="304.9" cy="386.6" r="5.05"/>
<circle cx="304.0" cy="386.2" r="5.05"/>
<circle cx="303.7" cy="384.3" r="5.05"/>
<circle cx="302.6" cy="384.4" r="5.05"/>
<circle cx="302.3" cy="382.7" r="5.05"/>
<circle cx="301.2" cy="382.9" r="5.05"/>
<circle cx="300.5" cy="382.1" r="5.05"/>
<circle cx="300.0" cy="381.0" r="5.05"/>
<circle cx="298.9" cy="381.2" r="5.05"/>
<circle cx="297.8" cy="381.3" r="5.05"/>
<circle cx="296.9" cy="381.0" r="5.05"/>
<circle cx="296.2" cy="380.2" r="5.05"/>
<circle cx="295.2" cy="380.0" r="5.05"/>
<circle cx="294.8" cy="378.8" r="5.05"/>
<circle cx="293.8" cy="378.6" r="5.05"/>
<circle cx="296.6" cy="387.0" r="5.05"/>
<circle cx="293.7" cy="378.9" r="5.05"/>
<circle cx="292.0" cy="380.1" r="5.05"/>
<circle cx="292.5" cy="377.1" r="5.05"/>
<circle cx="290.6" cy="378.4" r="5.05"/>
<circle cx="289.9" cy="377.6" r="5.05"/>
<circle cx="289.1" cy="377.1" r="5.05"/>
<circle cx="288.3" cy="376.6" r="5.05"/>
<circle cx="287.7" cy="375.7" r="5.05"/>
<circle cx="286.8" cy="375.3" r="5.05"/>
<circle cx="286.4" cy="374.1" r="5.05"/>
<circle cx="285.1" cy="374.3" r="5.05"/>
<circle cx="284.5" cy="373.5" r="5.05"/>
<circle cx="285.3" cy="379.7" r="5.05"/>
<circle cx="283.0" cy="375.8" r="5.05"/>
<circle cx="283.7" cy="372.9" r="5.05"/>
<circle cx="282.6" cy="372.8" r="5.05"/>
<circle cx="281.9" cy="372.1" r="5.05"/>
<circle cx="280.6" cy="372.3" r="5.05"/>
<circle cx="279.8" cy="371.6" r="5.05"/>
<circle cx="279.7" cy="370.2" r="5.05"/>
<circle cx="279.1" cy="369.3" r="5.05"/>
<circle cx="278.2" cy="368.9" r="5.05"/>
<circle cx="277.7" cy="368.1" r="5.05"/>
<circle cx="277.1" cy="367.2" r="5.05"/>
<circle cx="276.6" cy="366.4" r="5.05"/>
<circle cx="280.1" cy="377.7" r="5.05"/>
<circle cx="275.6" cy="367.5" r="5.05"/>
<circle cx="275.9" cy="365.7" r="5.05"/>
<circle cx="273.8" cy="366.5" r="5.05"/>
<circle cx="274.0" cy="364.9" r="5.05"/>
<circle cx="272.8" cy="364.8" r="5.05"/>
<circle cx="271.8" cy="364.3" r="5.05"/>
<circle cx="271.2" cy="363.6" r="5.05"/>
<circle cx="271.1" cy="362.3" r="5.05"/>
<circle cx="270.6" cy="361.5" r="5.05"/>
<circle cx="269.9" cy="360.8" r="5.05"/>
<circle cx="269.6" cy="359.8" r="5.05"/>
<circle cx="269.0" cy="359.1" r="5.05"/>
<circle cx="268.3" cy="359.6" r="5.05"/>
<circle cx="266.5" cy="359.8" r="5.05"/>
<circle cx="267.4" cy="357.8" r="5.05"/>
<circle cx="265.9" cy="357.8" r="5.05"/>
<circle cx="266.0" cy="356.5" r="5.05"/>
<circle cx="265.1" cy="355.9" r="5.05"/>
<circle cx="264.3" cy="355.3" r="5.05"/>
<circle cx="265.2" cy="353.5" r="5.05"/>
<circle cx="264.8" cy="352.7" r="5.05"/>
<circle cx="263.3" cy="352.4" r="5.05"/>
<circle cx="263.0" cy="351.5" r="5.05"/>
<circle cx="263.2" cy="351.4" r="5.05"/>
<circle cx="260.8" cy="351.6" r="5.05"/>
<circle cx="262.0" cy="349.8" r="5.05"/>
<circle cx="261.9" cy="348.8" r="5.05"/>
<circle cx="261.9" cy="347.8" r="5.05"/>
<circle cx="261.5" cy="346.9" r="5.05"/>
<circle cx="260.2" cy="346.4" r="5.05"/>
<circle cx="260.9" cy="345.0" r="5.05"/>
<circle cx="260.0" cy="344.4" r="5.05"/>
<circle cx="260.0" cy="343.3" r="5.05"/>
<circle cx="259.6" cy="342.5" r="5.05"/>
<circle cx="256.8" cy="346.3" r="5.05"/>
<circle cx="258.3" cy="343.0" r="5.05"/>
<circle cx="258.9" cy="341.7" r="5.05"/>
<circle cx="257.7" cy="341.2" r="5.05"/>
<circle cx="258.0" cy="340.0" r="5.05"/>
<circle cx="256.7" cy="339.5" r="5.05"/>
<circle cx="257.1" cy="338.3" r="5.05"/>
<circle cx="256.9" cy="337.3" r="5.05"/>
<circle cx="255.6" cy="336.9" r="5.05"/>
<circle cx="256.4" cy="335.5" r="5.05"/>
<circle cx="255.6" cy="334.7" r="5.05"/>
<circle cx="256.0" cy="333.5" r="5.05"/>
<circle cx="254.1" cy="342.4" r="5.05"/>
<circle cx="254.0" cy="333.7" r="5.05"/>
<circle cx="255.7" cy="332.3" r="5.05"/>
<circle cx="254.0" cy="332.4" r="5.05"/>
<circle cx="254.1" cy="331.7" r="5.05"/>
<circle cx="254.1" cy="331.0" r="5.05"/>
<circle cx="250.5" cy="333.3" r="5.05"/>
<circle cx="251.9" cy="331.1" r="5.05"/>
<circle cx="253.6" cy="329.9" r="5.05"/>
<circle cx="252.2" cy="329.5" r="5.05"/>
<circle cx="254.0" cy="328.6" r="5.05"/>
<circle cx="253.1" cy="328.1" r="5.05"/>
<circle cx="247.4" cy="329.3" r="5.05"/>
<circle cx="251.4" cy="327.7" r="5.05"/>
<circle cx="251.8" cy="327.1" r="5.05"/>
<circle cx="252.8" cy="326.3" r="5.05"/>
<circle cx="253.3" cy="325.6" r="5.05"/>
<circle cx="252.6" cy="325.1" r="5.05"/>
<circle cx="248.6" cy="326.9" r="5.05"/>
<circle cx="252.3" cy="325.2" r="5.05"/>
<circle cx="253.0" cy="324.0" r="5.05"/>
<circle cx="250.7" cy="323.6" r="5.05"/>
<circle cx="252.2" cy="322.2" r="5.05"/>
<circle cx="251.9" cy="321.2" r="5.05"/>
<circle cx="251.4" cy="320.3" r="5.05"/>
<circle cx="251.3" cy="319.4" r="5.05"/>
<circle cx="251.2" cy="318.4" r="5.05"/>
<circle cx="247.7" cy="323.6" r="5.05"/>
<circle cx="250.3" cy="318.6" r="5.05"/>
<circle cx="251.5" cy="317.3" r="5.05"/>
<circle cx="250.0" cy="316.7" r="5.05"/>
<circle cx="249.9" cy="315.7" r="5.05"/>
<circle cx="249.7" cy="314.7" r="5.05"/>
<circle cx="250.3" cy="313.6" r="5.05"/>
<circle cx="250.4" cy="312.5" r="5.05"/>
<circle cx="249.8" cy="311.7" r="5.05"/>
<circle cx="247.1" cy="316.3" r="5.05"/>
<circle cx="249.8" cy="311.7" r="5.05"/>
<circle cx="247.7" cy="311.2" r="5.05"/>
<circle cx="249.5" cy="309.7" r="5.05"/>
<circle cx="248.7" cy="308.9" r="5.05"/>
<circle cx="248.3" cy="308.0" r="5.05"/>
<circle cx="247.5" cy="307.2" r="5.05"/>
<circle cx="247.9" cy="306.1" r="5.05"/>
<circle cx="248.6" cy="304.9" r="5.05"/>
<circle cx="243.4" cy="312.2" r="5.05"/>
<circle cx="246.7" cy="304.6" r="5.05"/>
<circle cx="247.7" cy="303.7" r="5.05"/>
<circle cx="247.2" cy="303.1" r="5.05"/>
<circle cx="247.7" cy="302.4" r="5.05"/>
<circle cx="248.1" cy="301.7" r="5.05"/>
<circle cx="241.7" cy="304.0" r="5.05"/>
<circle cx="247.8" cy="301.0" r="5.05"/>
<circle cx="247.4" cy="300.3" r="5.05"/>
<circle cx="248.3" cy="299.7" r="5.05"/>
<circle cx="247.6" cy="299.0" r="5.05"/>
<circle cx="247.5" cy="298.3" r="5.05"/>
<circle cx="243.9" cy="300.3" r="5.05"/>
<circle cx="247.7" cy="297.7" r="5.05"/>
<circle cx="247.5" cy="297.0" r="5.05"/>
<circle cx="247.8" cy="296.3" r="5.05"/>
<circle cx="247.1" cy="295.7" r="5.05"/>
<circle cx="247.4" cy="295.0" r="5.05"/>
<circle cx="247.0" cy="290.6" r="5.05"/>
<circle cx="246.6" cy="289.8" r="5.05"/>
<circle cx="247.4" cy="288.7" r="5.05"/>
<circle cx="246.3" cy="287.9" r="5.05"/>
<circle cx="246.6" cy="287.0" r="5.05"/>
<circle cx="246.8" cy="286.0" r="5.05"/>
<circle cx="246.3" cy="285.1" r="5.05"/>
<circle cx="246.8" cy="284.1" r="5.05"/>
<circle cx="245.5" cy="279.9" r="5.05"/>
<circle cx="245.9" cy="278.9" r="5.05"/>
<circle cx="246.1" cy="277.9" r="5.05"/>
<circle cx="245.5" cy="277.1" r="5.05"/>
<circle cx="245.8" cy="276.1" r="5.05"/>
<circle cx="246.1" cy="275.1" r="5.05"/>
<circle cx="245.3" cy="274.3" r="5.05"/>
<circle cx="246.1" cy="273.3" r="5.05"/>
<circle cx="244.7" cy="269.0" r="5.05"/>
<circle cx="245.3" cy="268.0" r="5.05"/>
<circle cx="244.8" cy="267.1" r="5.05"/>
<circle cx="244.3" cy="266.3" r="5.05"/>
<circle cx="244.7" cy="265.3" r="5.05"/>
<circle cx="244.5" cy="264.4" r="5.05"/>
<circle cx="244.8" cy="263.4" r="5.05"/>
<circle cx="245.1" cy="262.4" r="5.05"/>
<circle cx="244.6" cy="257.9" r="5.05"/>
<circle cx="244.4" cy="257.0" r="5.05"/>
<circle cx="243.8" cy="256.1" r="5.05"/>
<circle cx="243.9" cy="255.2" r="5.05"/>
<circle cx="243.8" cy="254.3" r="5.05"/>
<circle cx="243.2" cy="253.4" r="5.05"/>
<circle cx="244.1" cy="252.4" r="5.05"/>
<circle cx="243.9" cy="251.5" r="5.05"/>
<circle cx="243.0" cy="247.0" r="5.05"/>
<circle cx="243.7" cy="246.0" r="5.05"/>
<circle cx="243.6" cy="245.0" r="5.05"/>
<circle cx="243.1" cy="244.2" r="5.05"/>
<circle cx="243.3" cy="243.2" r="5.05"/>
<circle cx="242.9" cy="242.3" r="5.05"/>
<circle cx="243.0" cy="241.4" r="5.05"/>
<circle cx="242.5" cy="240.5" r="5.05"/>
<circle cx="242.0" cy="236.0" r="5.05"/>
<circle cx="242.3" cy="235.0" r="5.05"/>
<circle cx="241.7" cy="234.1" r="5.05"/>
<circle cx="241.8" cy="233.2" r="5.05"/>
<circle cx="242.1" cy="232.2" r="5.05"/>
<circle cx="241.0" cy="231.4" r="5.05"/>
<circle cx="241.7" cy="230.4" r="5.05"/>
<circle cx="241.7" cy="229.4" r="5.05"/>
<circle cx="241.1" cy="224.9" r="5.05"/>
<circle cx="240.3" cy="224.1" r="5.05"/>
<circle cx="239.9" cy="223.2" r="5.05"/>
<circle cx="239.8" cy="222.3" r="5.05"/>
<circle cx="240.1" cy="221.3" r="5.05"/>
<circle cx="240.1" cy="220.4" r="5.05"/>
<circle cx="240.3" cy="219.4" r="5.05"/>
<circle cx="239.4" cy="218.6" r="5.05"/>
<circle cx="238.7" cy="214.1" r="5.05"/>
<circle cx="238.8" cy="213.2" r="5.05"/>
<circle cx="238.3" cy="212.3" r="5.05"/>
<circle cx="238.3" cy="211.4" r="5.05"/>
<circle cx="237.6" cy="210.6" r="5.05"/>
<circle cx="237.7" cy="209.6" r="5.05"/>
<circle cx="238.0" cy="208.6" r="5.05"/>
<circle cx="237.1" cy="207.8" r="5.05"/>
<circle cx="237.1" cy="203.2" r="5.05"/>
<circle cx="236.3" cy="202.4" r="5.05"/>
<circle cx="236.3" cy="201.5" r="5.05"/>
<circle cx="236.2" cy="200.5" r="5.05"/>
<circle cx="236.2" cy="199.6" r="5.05"/>
<circle cx="235.2" cy="198.9" r="5.05"/>
<circle cx="235.8" cy="197.7" r="5.05"/>
<circle cx="234.9" cy="197.0" r="5.05"/>
<circle cx="233.4" cy="193.3" r="5.05"/>
<circle cx="234.0" cy="192.2" r="5.05"/>
<circle cx="233.7" cy="191.3" r="5.05"/>
<circle cx="233.0" cy="190.6" r="5.05"/>
<circle cx="232.8" cy="189.6" r="5.05"/>
<circle cx="232.4" cy="188.8" r="5.05"/>
<circle cx="231.9" cy="188.0" r="5.05"/>
<circle cx="232.3" cy="186.9" r="5.05"/>
<circle cx="230.8" cy="183.2" r="5.05"/>
<circle cx="230.5" cy="182.3" r="5.05"/>
<circle cx="230.5" cy="181.3" r="5.05"/>
<circle cx="229.2" cy="180.8" r="5.05"/>
<circle cx="229.0" cy="179.9" r="5.05"/>
<circle cx="228.7" cy="179.0" r="5.05"/>
<circle cx="229.2" cy="177.8" r="5.05"/>
<circle cx="227.9" cy="177.3" r="5.05"/>
<circle cx="226.5" cy="173.6" r="5.05"/>
<circle cx="226.5" cy="172.6" r="5.05"/>
<circle cx="225.8" cy="171.9" r="5.05"/>
<circle cx="225.8" cy="170.9" r="5.05"/>
<circle cx="225.7" cy="169.9" r="5.05"/>
<circle cx="225.4" cy="169.0" r="5.05"/>
<circle cx="224.9" cy="168.2" r="5.05"/>
<circle cx="224.8" cy="167.3" r="5.05"/>
<circle cx="222.9" cy="164.1" r="5.05"/>
<circle cx="222.1" cy="163.5" r="5.05"/>
<circle cx="221.7" cy="162.6" r="5.05"/>
<circle cx="221.2" cy="161.9" r="5.05"/>
<circle cx="220.9" cy="161.0" r="5.05"/>
<circle cx="221.0" cy="159.9" r="5.05"/>
<circle cx="220.3" cy="159.2" r="5.05"/>
<circle cx="220.0" cy="158.3" r="5.05"/>
<circle cx="217.9" cy="155.3" r="5.05"/>
<circle cx="217.8" cy="154.4" r="5.05"/>
<circle cx="217.6" cy="153.4" r="5.05"/>
<circle cx="216.8" cy="152.8" r="5.05"/>
<circle cx="216.0" cy="152.2" r="5.05"/>
<circle cx="216.3" cy="150.9" r="5.05"/>
<circle cx="215.2" cy="150.5" r="5.05"/>
<circle cx="215.6" cy="149.2" r="5.05"/>
<circle cx="213.6" cy="146.2" r="5.05"/>
<circle cx="213.1" cy="145.4" r="5.05"/>
<circle cx="212.1" cy="144.9" r="5.05"/>
<circle cx="211.5" cy="144.2" r="5.05"/>
<circle cx="211.2" cy="143.3" r="5.05"/>
<circle cx="211.1" cy="142.2" r="5.05"/>
<circle cx="210.1" cy="141.8" r="5.05"/>
<circle cx="210.2" cy="140.6" r="5.05"/>
<circle cx="208.4" cy="141.8" r="5.05"/>
<circle cx="208.2" cy="140.8" r="5.05"/>
<circle cx="207.2" cy="140.3" r="5.05"/>
<circle cx="207.4" cy="139.1" r="5.05"/>
<circle cx="206.8" cy="138.4" r="5.05"/>
<circle cx="206.9" cy="137.2" r="5.05"/>
<circle cx="206.8" cy="136.2" r="5.05"/>
<circle cx="206.4" cy="135.3" r="5.05"/>
<circle cx="206.0" cy="134.5" r="5.05"/>
<circle cx="205.8" cy="133.4" r="5.05"/>
<circle cx="205.3" cy="132.7" r="5.05"/>
<circle cx="203.5" cy="137.2" r="5.05"/>
<circle cx="204.1" cy="133.5" r="5.05"/>
<circle cx="203.1" cy="133.1" r="5.05"/>
<circle cx="203.8" cy="131.4" r="5.05"/>
<circle cx="202.9" cy="130.9" r="5.05"/>
<circle cx="201.5" cy="130.8" r="5.05"/>
<circle cx="202.0" cy="129.3" r="5.05"/>
<circle cx="200.6" cy="129.2" r="5.05"/>
<circle cx="200.7" cy="127.9" r="5.05"/>
<circle cx="200.9" cy="126.6" r="5.05"/>
<circle cx="200.3" cy="125.9" r="5.05"/>
<circle cx="199.2" cy="125.6" r="5.05"/>
<circle cx="199.0" cy="125.7" r="5.05"/>
<circle cx="199.4" cy="124.2" r="5.05"/>
<circle cx="198.0" cy="124.1" r="5.05"/>
<circle cx="197.5" cy="123.3" r="5.05"/>
<circle cx="197.5" cy="122.2" r="5.05"/>
<circle cx="196.2" cy="122.0" r="5.05"/>
<circle cx="196.0" cy="120.9" r="5.05"/>
<circle cx="194.8" cy="120.7" r="5.05"/>
<circle cx="194.4" cy="119.9" r="5.05"/>
<circle cx="194.7" cy="118.4" r="5.05"/>
<circle cx="193.8" cy="118.0" r="5.05"/>
<circle cx="193.7" cy="126.2" r="5.05"/>
<circle cx="192.4" cy="119.1" r="5.05"/>
<circle cx="192.2" cy="118.0" r="5.05"/>
<circle cx="193.1" cy="115.9" r="5.05"/>
<circle cx="191.2" cy="116.1" r="5.05"/>
<circle cx="190.9" cy="115.1" r="5.05"/>
<circle cx="190.2" cy="114.4" r="5.05"/>
<circle cx="189.6" cy="113.6" r="5.05"/>
<circle cx="189.1" cy="112.7" r="5.05"/>
<circle cx="188.2" cy="112.1" r="5.05"/>
<circle cx="188.6" cy="111.8" r="5.05"/>
<circle cx="187.0" cy="111.9" r="5.05"/>
<circle cx="186.7" cy="110.8" r="5.05"/>
<circle cx="186.0" cy="110.1" r="5.05"/>
<circle cx="184.9" cy="109.7" r="5.05"/>
<circle cx="184.8" cy="108.4" r="5.05"/>
<circle cx="184.3" cy="107.5" r="5.05"/>
<circle cx="183.3" cy="107.0" r="5.05"/>
<circle cx="182.6" cy="106.3" r="5.05"/>
<circle cx="180.6" cy="112.5" r="5.05"/>
<circle cx="182.5" cy="106.4" r="5.05"/>
<circle cx="181.8" cy="105.7" r="5.05"/>
<circle cx="181.0" cy="105.0" r="5.05"/>
<circle cx="179.9" cy="104.7" r="5.05"/>
<circle cx="179.9" cy="103.3" r="5.05"/>
<circle cx="179.7" cy="102.1" r="5.05"/>
<circle cx="178.3" cy="102.0" r="5.05"/>
<circle cx="178.0" cy="101.0" r="5.05"/>
<circle cx="177.6" cy="100.0" r="5.05"/>
<circle cx="175.4" cy="105.0" r="5.05"/>
<circle cx="177.0" cy="100.4" r="5.05"/>
<circle cx="176.9" cy="99.2" r="5.05"/>
<circle cx="174.9" cy="99.6" r="5.05"/>
<circle cx="175.8" cy="97.4" r="5.05"/>
<circle cx="174.9" cy="96.9" r="5.05"/>
<circle cx="174.2" cy="96.2" r="5.05"/>
<circle cx="173.7" cy="95.3" r="5.05"/>
<circle cx="172.4" cy="95.0" r="5.05"/>
<circle cx="174.0" cy="101.8" r="5.05"/>
<circle cx="171.1" cy="96.2" r="5.05"/>
<circle cx="170.8" cy="95.1" r="5.05"/>
<circle cx="171.5" cy="93.1" r="5.05"/>
<circle cx="170.8" cy="92.4" r="5.05"/>
<circle cx="170.3" cy="91.5" r="5.05"/>
<circle cx="169.8" cy="90.6" r="5.05"/>
<circle cx="168.5" cy="90.4" r="5.05"/>
<circle cx="168.2" cy="89.2" r="5.05"/>
<circle cx="165.6" cy="94.3" r="5.05"/>
<circle cx="167.0" cy="90.3" r="5.05"/>
<circle cx="166.7" cy="89.2" r="5.05"/>
<circle cx="165.9" cy="88.5" r="5.05"/>
<circle cx="166.3" cy="86.9" r="5.05"/>
<circle cx="164.7" cy="86.9" r="5.05"/>
<circle cx="164.4" cy="85.8" r="5.05"/>
<circle cx="163.9" cy="84.9" r="5.05"/>
<circle cx="163.6" cy="83.9" r="5.05"/>
<circle cx="163.7" cy="89.7" r="5.05"/>
<circle cx="161.8" cy="84.1" r="5.05"/>
<circle cx="161.5" cy="83.0" r="5.05"/>
<circle cx="161.8" cy="81.5" r="5.05"/>
<circle cx="161.0" cy="80.9" r="5.05"/>
<circle cx="160.6" cy="79.9" r="5.05"/>
<circle cx="159.1" cy="79.9" r="5.05"/>
<circle cx="158.6" cy="79.0" r="5.05"/>
<circle cx="157.7" cy="78.4" r="5.05"/>
<circle cx="158.2" cy="76.7" r="5.05"/>
<circle cx="157.7" cy="75.9" r="5.05"/>
<circle cx="156.9" cy="75.2" r="5.05"/>
<circle cx="155.5" cy="74.9" r="5.05"/>
<circle cx="155.1" cy="73.9" r="5.05"/>
<circle cx="154.7" cy="72.9" r="5.05"/>
<circle cx="155.0" cy="71.8" r="5.05"/>
<circle cx="153.6" cy="71.3" r="5.05"/>
<circle cx="153.4" cy="70.4" r="5.05"/>
<circle cx="153.7" cy="69.5" r="5.05"/>
<circle cx="154.6" cy="68.6" r="5.05"/>
<circle cx="154.6" cy="67.8" r="5.05"/>
<circle cx="149.8" cy="70.1" r="5.05"/>
<circle cx="153.5" cy="66.9" r="5.05"/>
<circle cx="154.5" cy="66.2" r="5.05"/>
<circle cx="153.0" cy="65.1" r="5.05"/>
<circle cx="154.5" cy="64.5" r="5.05"/>
<circle cx="154.4" cy="63.7" r="5.05"/>
<circle cx="148.8" cy="63.6" r="5.05"/>
<circle cx="153.3" cy="62.4" r="5.05"/>
<circle cx="154.4" cy="61.9" r="5.05"/>
<circle cx="154.7" cy="61.1" r="5.05"/>
<circle cx="155.7" cy="60.6" r="5.05"/>
<circle cx="155.9" cy="59.8" r="5.05"/>
<circle cx="151.0" cy="59.0" r="5.05"/>
</g>
<g fill="none" stroke="#000" stroke-width="1.7">
<rect x="152.6" y="56.3" width="7.4" height="7.4"/>
<rect x="163.3" y="47.5" width="7.4" height="7.4"/>
<rect x="186.3" y="41.3" width="7.4" height="7.4"/>
<rect x="222.6" y="38.8" width="7.4" height="7.4"/>
<rect x="272.1" y="40.0" width="7.4" height="7.4"/>
<rect x="331.8" y="47.5" width="7.4" height="7.4"/>
<rect x="400.1" y="62.5" width="7.4" height="7.4"/>
<rect x="470.3" y="86.3" width="7.4" height="7.4"/>
<rect x="536.8" y="118.8" width="7.4" height="7.4"/>
<rect x="591.3" y="158.8" width="7.4" height="7.4"/>
<rect x="625.8" y="205.1" width="7.4" height="7.4"/>
<rect x="632.8" y="253.3" width="7.4" height="7.4"/>
<rect x="611.8" y="300.1" width="7.4" height="7.4"/>
<rect x="566.3" y="339.3" width="7.4" height="7.4"/>
<rect x="505.6" y="368.8" width="7.4" height="7.4"/>
<rect x="440.1" y="385.8" width="7.4" height="7.4"/>
<rect x="378.3" y="391.8" width="7.4" height="7.4"/>
<rect x="327.6" y="387.6" width="7.4" height="7.4"/>
<rect x="290.1" y="375.1" width="7.4" height="7.4"/>
<rect x="265.1" y="355.6" width="7.4" height="7.4"/>
<rect x="251.8" y="330.1" width="7.4" height="7.4"/>
<rect x="249.3" y="321.3" width="7.4" height="7.4"/>
<rect x="244.6" y="301.3" width="7.4" height="7.4"/>
<rect x="243.8" y="291.3" width="7.4" height="7.4"/>
<rect x="240.8" y="258.8" width="7.4" height="7.4"/>
<rect x="237.6" y="225.8" width="7.4" height="7.4"/>
<rect x="231.3" y="193.3" width="7.4" height="7.4"/>
<rect x="220.6" y="163.8" width="7.4" height="7.4"/>
<rect x="206.3" y="137.1" width="7.4" height="7.4"/>
<rect x="190.1" y="114.3" width="7.4" height="7.4"/>
<rect x="173.8" y="96.3" width="7.4" height="7.4"/>
<rect x="160.1" y="80.0" width="7.4" height="7.4"/>
<rect x="151.3" y="68.0" width="7.4" height="7.4"/>
</g>
<path d="M149.5 57.5C149.6 55.4 149.9 53.3 151.2 51.2C152.6 49.2 154.8 46.7 157.5 45.0C160.2 43.3 163.8 42.3 167.5 41.2C171.2 40.2 175.8 39.5 180.0 38.8C184.2 38.0 187.5 37.5 192.5 37.0C197.5 36.5 203.8 36.2 210.0 36.0C216.2 35.8 223.3 35.7 230.0 35.8C236.7 35.8 243.3 35.9 250.0 36.2C256.7 36.6 263.3 37.3 270.0 38.0C276.7 38.7 282.5 39.5 290.0 40.5C297.5 41.5 306.7 42.5 315.0 43.8C323.3 45.0 331.7 46.3 340.0 48.0C348.3 49.7 356.7 51.8 365.0 53.8C373.3 55.8 381.7 57.7 390.0 60.0C398.3 62.3 406.7 64.9 415.0 67.5C423.3 70.1 432.3 72.8 440.0 75.5C447.7 78.2 455.2 81.1 461.0 83.8C466.8 86.4 468.5 88.1 475.0 91.2C481.5 94.4 491.7 98.8 500.0 102.5C508.3 106.2 516.7 109.6 525.0 113.8C533.3 117.9 541.7 122.1 550.0 127.5C558.3 132.9 567.5 140.2 575.0 146.2C582.5 152.3 589.2 158.1 595.0 163.8C600.8 169.4 605.2 174.4 610.0 180.0C614.8 185.6 620.6 192.7 624.0 197.5C627.4 202.3 628.5 204.6 630.2 208.8C632.0 212.9 633.5 218.1 634.5 222.5C635.5 226.9 636.1 230.8 636.5 235.0C636.9 239.2 637.1 243.3 637.0 247.5C636.9 251.7 636.6 255.8 636.0 260.0C635.4 264.2 634.7 268.3 633.5 272.5C632.3 276.7 630.7 280.8 629.0 285.0C627.3 289.2 625.8 293.3 623.5 297.5C621.2 301.7 619.4 305.2 615.5 310.0C611.6 314.8 605.1 321.5 600.0 326.2C594.9 331.0 590.0 335.0 585.0 338.8C580.0 342.5 575.4 345.4 570.0 348.8C564.6 352.1 558.8 355.4 552.5 358.8C546.2 362.1 539.6 365.4 532.5 368.8C525.4 372.1 517.1 375.8 510.0 378.8C502.9 381.7 496.7 384.0 490.0 386.2C483.3 388.5 475.0 390.8 470.0 392.0C465.0 393.2 465.8 392.6 460.0 393.8C454.2 394.9 443.3 397.3 435.0 398.8C426.7 400.2 417.5 401.7 410.0 402.5C402.5 403.3 396.2 403.5 390.0 403.8C383.8 404.0 378.3 404.1 372.5 404.0C366.7 403.9 361.2 403.8 355.0 403.2C348.8 402.7 340.4 401.5 335.0 400.5C329.6 399.5 326.7 398.4 322.5 397.5C318.3 396.6 314.6 396.5 310.0 395.0C305.4 393.5 300.0 391.5 295.0 388.8C290.0 386.0 284.6 382.3 280.0 378.8C275.4 375.2 271.0 371.5 267.5 367.5C264.0 363.5 261.2 359.6 258.8 355.0C256.2 350.4 254.2 345.0 252.5 340.0C250.8 335.0 249.8 330.0 248.8 325.0C247.7 320.0 246.9 315.0 246.2 310.0C245.6 305.0 245.3 300.0 245.0 295.0C244.7 290.0 244.6 284.2 244.6 280.0C244.6 275.8 244.8 275.0 244.8 270.0C244.8 265.0 244.7 256.7 244.5 250.0C244.3 243.3 244.2 236.2 243.8 230.0C243.3 223.8 242.8 218.1 242.0 212.5C241.2 206.9 240.1 201.7 238.8 196.2C237.4 190.8 235.6 185.2 233.8 180.0C231.9 174.8 230.0 170.0 227.5 165.0C225.0 160.0 221.4 154.4 218.9 150.0C216.4 145.6 215.2 142.9 212.5 138.8C209.8 134.6 205.8 129.4 202.5 125.0C199.2 120.6 195.8 116.5 192.5 112.5C189.2 108.5 185.8 104.8 182.5 101.2C179.2 97.7 175.8 94.8 172.5 91.2C169.2 87.7 165.4 83.3 162.5 80.0C159.6 76.7 157.0 74.0 155.0 71.2C153.0 68.5 151.4 66.0 150.5 63.8C149.6 61.5 149.4 59.6 149.5 57.5Z" fill="none" stroke="#00f" stroke-width="3.8" stroke-linejoin="round"/>
</g>
<circle cx="331.3" cy="226.4" r="5.3" fill="none" stroke="#f00" stroke-width="1.7"/>
<line x1="304.3" y1="255.7" x2="358.0" y2="255.7" stroke="#00f" stroke-width="3.7"/>
<g font-family="Liberation Sans, Arial, Helvetica, sans-serif" font-size="22.5" fill="#000" stroke="#000" stroke-width="0.2">
<text x="361.3" y="234.9">Numerical Integration</text>
<text x="361.3" y="263.8">SSM</text>
</g>
<g font-family="Liberation Sans, Arial, Helvetica, sans-serif" font-size="24.4" fill="#000" stroke="#000" stroke-width="0.25">
<text x="94.8" y="510.3" text-anchor="middle">1</text>
<text x="209.1" y="510.3" text-anchor="middle">1.5</text>
<text x="324.1" y="510.3" text-anchor="middle">2</text>
<text x="439.1" y="510.3" text-anchor="middle">2.5</text>
<text x="554.1" y="510.3" text-anchor="middle">3</text>
<text x="686.3" y="510.3" text-anchor="end">3.5</text>
<text x="85.9" y="75.8" text-anchor="end">50</text>
<text x="85.9" y="212.1" text-anchor="end">0</text>
<text x="85.9" y="348.5" text-anchor="end">-50</text>
<text x="85.9" y="484.9" text-anchor="end">-100</text>
</g>
<text font-family="Liberation Serif, Times New Roman, serif" font-size="27.5" fill="#000" stroke="#000" stroke-width="0.2"><tspan x="255.9" y="21.3" textLength="26.2" lengthAdjust="spacingAndGlyphs">A:</tspan> <tspan x="290.8" y="21.3" textLength="19.7" lengthAdjust="spacingAndGlyphs">Ω</tspan><tspan x="310.1" y="21.3" textLength="20.9" lengthAdjust="spacingAndGlyphs">=</tspan><tspan x="331.8" y="21.3" textLength="88.3" lengthAdjust="spacingAndGlyphs">33.9844</tspan> <tspan x="431.5" y="22.8" font-size="32.7" textLength="6.1" lengthAdjust="spacingAndGlyphs">[</tspan><tspan x="438.2" y="21.3" textLength="39.3" lengthAdjust="spacingAndGlyphs">rad</tspan><tspan x="478.6" y="28.0" font-size="40.6" textLength="11.3" lengthAdjust="spacingAndGlyphs" stroke="none">/</tspan><tspan x="490.6" y="21.3" textLength="10.7" lengthAdjust="spacingAndGlyphs">s</tspan><tspan x="500.5" y="22.8" font-size="32.7" textLength="6.4" lengthAdjust="spacingAndGlyphs">]</tspan></text>
<text font-family="Liberation Serif, Times New Roman, serif" font-size="27.5" fill="#000" stroke="#000" stroke-width="0.2"><tspan x="322.2" y="541.8" textLength="16.2" lengthAdjust="spacingAndGlyphs" font-style="italic">w</tspan><tspan x="340.6" y="545.8" font-size="18.0" textLength="22.6" lengthAdjust="spacingAndGlyphs">0.5</tspan><tspan x="365.5" y="545.8" font-size="18.0" textLength="5.5" lengthAdjust="spacingAndGlyphs" font-style="italic">l</tspan> <tspan x="382.9" y="543.3" font-size="32.7" textLength="6.1" lengthAdjust="spacingAndGlyphs">[</tspan><tspan x="389.7" y="541.8" textLength="44.8" lengthAdjust="spacingAndGlyphs">mm</tspan><tspan x="434.1" y="543.3" font-size="32.7" textLength="6.1" lengthAdjust="spacingAndGlyphs">]</tspan></text>
<text font-family="Liberation Serif, Times New Roman, serif" font-size="27.5" fill="#000" stroke="#000" stroke-width="0.2" transform="translate(21.3 328.0) rotate(-90)"><tspan x="0.0" y="0.0" textLength="16.7" lengthAdjust="spacingAndGlyphs" font-style="italic">ẇ</tspan><tspan x="19.4" y="4.0" font-size="18.0" textLength="23.6" lengthAdjust="spacingAndGlyphs">0.5</tspan><tspan x="44.3" y="4.0" font-size="18.0" textLength="5.3" lengthAdjust="spacingAndGlyphs" font-style="italic">l</tspan> <tspan x="61.5" y="1.5" font-size="32.7" textLength="6.0" lengthAdjust="spacingAndGlyphs">[</tspan><tspan x="67.9" y="0.0" textLength="45.1" lengthAdjust="spacingAndGlyphs">mm</tspan><tspan x="114.2" y="6.7" font-size="40.6" textLength="10.5" lengthAdjust="spacingAndGlyphs" stroke="none">/</tspan><tspan x="125.6" y="0.0" textLength="11.5" lengthAdjust="spacingAndGlyphs">s</tspan><tspan x="136.6" y="1.5" font-size="32.7" textLength="5.9" lengthAdjust="spacingAndGlyphs">]</tspan></text>
<g stroke="#dedede" stroke-width="1.4">
<line x1="209.2" y1="595.2" x2="209.2" y2="1034.8"/>
<line x1="324.2" y1="595.2" x2="324.2" y2="1034.8"/>
<line x1="439.2" y1="595.2" x2="439.2" y2="1034.8"/>
<line x1="554.2" y1="595.2" x2="554.2" y2="1034.8"/>
<line x1="669.2" y1="595.2" x2="669.2" y2="1034.8"/>
<line x1="94.2" y1="595.2" x2="669.2" y2="595.2"/>
<line x1="94.2" y1="658.0" x2="669.2" y2="658.0"/>
<line x1="94.2" y1="720.8" x2="669.2" y2="720.8"/>
<line x1="94.2" y1="783.6" x2="669.2" y2="783.6"/>
<line x1="94.2" y1="846.4" x2="669.2" y2="846.4"/>
<line x1="94.2" y1="909.2" x2="669.2" y2="909.2"/>
<line x1="94.2" y1="972.0" x2="669.2" y2="972.0"/>
</g>
<g stroke="#262626" stroke-width="1.6" fill="none">
<path d="M94.2 594.6V1034.8H669.8"/>
<line x1="209.2" y1="1034.8" x2="209.2" y2="1029.3"/>
<line x1="324.2" y1="1034.8" x2="324.2" y2="1029.3"/>
<line x1="439.2" y1="1034.8" x2="439.2" y2="1029.3"/>
<line x1="554.2" y1="1034.8" x2="554.2" y2="1029.3"/>
<line x1="669.2" y1="1034.8" x2="669.2" y2="1029.3"/>
<line x1="94.2" y1="595.2" x2="99.7" y2="595.2"/>
<line x1="94.2" y1="658.0" x2="99.7" y2="658.0"/>
<line x1="94.2" y1="720.8" x2="99.7" y2="720.8"/>
<line x1="94.2" y1="783.6" x2="99.7" y2="783.6"/>
<line x1="94.2" y1="846.4" x2="99.7" y2="846.4"/>
<line x1="94.2" y1="909.2" x2="99.7" y2="909.2"/>
<line x1="94.2" y1="972.0" x2="99.7" y2="972.0"/>
</g>
<g fill="none" stroke="#f00" stroke-width="1.75">
<circle cx="189.7" cy="649.5" r="4.95"/>
<circle cx="194.9" cy="653.1" r="4.95"/>
<circle cx="198.4" cy="655.4" r="4.95"/>
<circle cx="200.2" cy="656.9" r="4.95"/>
<circle cx="200.9" cy="656.5" r="4.95"/>
<circle cx="203.2" cy="658.0" r="4.95"/>
<circle cx="202.8" cy="658.7" r="4.95"/>
<circle cx="204.3" cy="659.7" r="4.95"/>
<circle cx="205.5" cy="661.0" r="4.95"/>
<circle cx="205.7" cy="662.4" r="4.95"/>
<circle cx="207.8" cy="660.9" r="4.95"/>
<circle cx="208.7" cy="663.8" r="4.95"/>
<circle cx="209.8" cy="660.5" r="4.95"/>
<circle cx="211.8" cy="659.2" r="4.95"/>
<circle cx="209.8" cy="657.6" r="4.95"/>
<circle cx="210.5" cy="656.3" r="4.95"/>
<circle cx="212.6" cy="655.3" r="4.95"/>
<circle cx="212.9" cy="654.0" r="4.95"/>
<circle cx="210.5" cy="651.9" r="4.95"/>
<circle cx="211.7" cy="650.8" r="4.95"/>
<circle cx="213.4" cy="650.0" r="4.95"/>
<circle cx="214.3" cy="648.9" r="4.95"/>
<circle cx="214.8" cy="647.7" r="4.95"/>
<circle cx="215.2" cy="646.4" r="4.95"/>
<circle cx="196.0" cy="634.7" r="4.95"/>
<circle cx="201.7" cy="636.3" r="4.95"/>
<circle cx="206.4" cy="636.7" r="4.95"/>
<circle cx="208.6" cy="638.5" r="4.95"/>
<circle cx="208.7" cy="639.7" r="4.95"/>
<circle cx="209.4" cy="641.0" r="4.95"/>
<circle cx="209.7" cy="640.5" r="4.95"/>
<circle cx="209.8" cy="642.4" r="4.95"/>
<circle cx="210.3" cy="643.2" r="4.95"/>
<circle cx="211.1" cy="644.5" r="4.95"/>
<circle cx="209.9" cy="644.8" r="4.95"/>
<circle cx="210.0" cy="646.5" r="4.95"/>
<circle cx="215.6" cy="646.6" r="4.95"/>
<circle cx="215.3" cy="644.8" r="4.95"/>
<circle cx="216.8" cy="644.2" r="4.95"/>
<circle cx="216.8" cy="642.5" r="4.95"/>
<circle cx="217.6" cy="641.4" r="4.95"/>
<circle cx="218.4" cy="640.3" r="4.95"/>
<circle cx="218.6" cy="638.6" r="4.95"/>
<circle cx="221.4" cy="639.4" r="4.95"/>
<circle cx="220.6" cy="636.7" r="4.95"/>
<circle cx="222.4" cy="636.6" r="4.95"/>
<circle cx="223.2" cy="635.5" r="4.95"/>
<circle cx="224.1" cy="634.4" r="4.95"/>
<circle cx="225.0" cy="633.2" r="4.95"/>
<circle cx="226.9" cy="633.6" r="4.95"/>
<circle cx="212.2" cy="621.3" r="4.95"/>
<circle cx="218.1" cy="621.8" r="4.95"/>
<circle cx="222.8" cy="621.9" r="4.95"/>
<circle cx="223.9" cy="623.8" r="4.95"/>
<circle cx="224.7" cy="624.0" r="4.95"/>
<circle cx="224.8" cy="625.6" r="4.95"/>
<circle cx="223.5" cy="627.7" r="4.95"/>
<circle cx="222.2" cy="628.3" r="4.95"/>
<circle cx="223.7" cy="628.4" r="4.95"/>
<circle cx="224.3" cy="629.5" r="4.95"/>
<circle cx="223.3" cy="631.0" r="4.95"/>
<circle cx="224.0" cy="631.3" r="4.95"/>
<circle cx="226.8" cy="633.4" r="4.95"/>
<circle cx="227.9" cy="632.7" r="4.95"/>
<circle cx="228.8" cy="631.7" r="4.95"/>
<circle cx="229.5" cy="630.4" r="4.95"/>
<circle cx="231.4" cy="631.1" r="4.95"/>
<circle cx="231.8" cy="629.1" r="4.95"/>
<circle cx="233.5" cy="629.6" r="4.95"/>
<circle cx="234.6" cy="628.7" r="4.95"/>
<circle cx="236.0" cy="628.8" r="4.95"/>
<circle cx="236.9" cy="627.6" r="4.95"/>
<circle cx="237.5" cy="625.8" r="4.95"/>
<circle cx="239.1" cy="626.2" r="4.95"/>
<circle cx="240.2" cy="625.3" r="4.95"/>
<circle cx="241.9" cy="626.1" r="4.95"/>
<circle cx="243.1" cy="625.7" r="4.95"/>
<circle cx="244.3" cy="625.3" r="4.95"/>
<circle cx="245.3" cy="624.1" r="4.95"/>
<circle cx="246.5" cy="623.5" r="4.95"/>
<circle cx="247.6" cy="622.7" r="4.95"/>
<circle cx="249.5" cy="624.5" r="4.95"/>
<circle cx="241.3" cy="611.5" r="4.95"/>
<circle cx="245.8" cy="611.2" r="4.95"/>
<circle cx="248.8" cy="613.7" r="4.95"/>
<circle cx="250.4" cy="617.3" r="4.95"/>
<circle cx="252.2" cy="615.5" r="4.95"/>
<circle cx="252.3" cy="616.7" r="4.95"/>
<circle cx="252.6" cy="616.4" r="4.95"/>
<circle cx="250.7" cy="617.8" r="4.95"/>
<circle cx="253.4" cy="618.2" r="4.95"/>
<circle cx="249.4" cy="616.3" r="4.95"/>
<circle cx="252.3" cy="615.9" r="4.95"/>
<circle cx="250.7" cy="617.5" r="4.95"/>
<circle cx="252.7" cy="617.4" r="4.95"/>
<circle cx="254.7" cy="617.4" r="4.95"/>
<circle cx="256.7" cy="617.2" r="4.95"/>
<circle cx="258.7" cy="617.1" r="4.95"/>
<circle cx="260.7" cy="617.0" r="4.95"/>
<circle cx="262.7" cy="616.9" r="4.95"/>
<circle cx="264.7" cy="616.8" r="4.95"/>
<circle cx="266.7" cy="616.6" r="4.95"/>
<circle cx="268.7" cy="617.1" r="4.95"/>
<circle cx="270.7" cy="616.8" r="4.95"/>
<circle cx="272.7" cy="617.1" r="4.95"/>
<circle cx="274.7" cy="617.2" r="4.95"/>
<circle cx="276.6" cy="616.9" r="4.95"/>
<circle cx="278.6" cy="617.2" r="4.95"/>
<circle cx="280.5" cy="617.1" r="4.95"/>
<circle cx="282.5" cy="617.5" r="4.95"/>
<circle cx="280.9" cy="606.2" r="4.95"/>
<circle cx="283.4" cy="607.5" r="4.95"/>
<circle cx="284.9" cy="609.2" r="4.95"/>
<circle cx="285.9" cy="611.1" r="4.95"/>
<circle cx="285.2" cy="613.7" r="4.95"/>
<circle cx="284.2" cy="613.4" r="4.95"/>
<circle cx="288.4" cy="610.0" r="4.95"/>
<circle cx="284.6" cy="610.9" r="4.95"/>
<circle cx="285.3" cy="613.0" r="4.95"/>
<circle cx="284.2" cy="611.0" r="4.95"/>
<circle cx="288.1" cy="613.2" r="4.95"/>
<circle cx="285.1" cy="611.7" r="4.95"/>
<circle cx="287.7" cy="611.8" r="4.95"/>
<circle cx="290.4" cy="612.1" r="4.95"/>
<circle cx="293.0" cy="612.1" r="4.95"/>
<circle cx="295.7" cy="612.6" r="4.95"/>
<circle cx="298.3" cy="612.5" r="4.95"/>
<circle cx="300.9" cy="612.9" r="4.95"/>
<circle cx="303.6" cy="613.5" r="4.95"/>
<circle cx="306.2" cy="613.8" r="4.95"/>
<circle cx="308.8" cy="613.8" r="4.95"/>
<circle cx="311.4" cy="614.1" r="4.95"/>
<circle cx="314.0" cy="614.8" r="4.95"/>
<circle cx="316.6" cy="615.1" r="4.95"/>
<circle cx="319.2" cy="615.3" r="4.95"/>
<circle cx="321.8" cy="616.0" r="4.95"/>
<circle cx="324.4" cy="616.1" r="4.95"/>
<circle cx="327.0" cy="616.8" r="4.95"/>
<circle cx="332.1" cy="607.4" r="4.95"/>
<circle cx="331.4" cy="608.0" r="4.95"/>
<circle cx="330.8" cy="609.1" r="4.95"/>
<circle cx="333.0" cy="610.5" r="4.95"/>
<circle cx="332.1" cy="611.5" r="4.95"/>
<circle cx="333.0" cy="609.9" r="4.95"/>
<circle cx="331.8" cy="612.8" r="4.95"/>
<circle cx="333.8" cy="609.8" r="4.95"/>
<circle cx="330.9" cy="609.0" r="4.95"/>
<circle cx="333.0" cy="611.8" r="4.95"/>
<circle cx="331.2" cy="611.5" r="4.95"/>
<circle cx="330.3" cy="610.8" r="4.95"/>
<circle cx="333.4" cy="611.4" r="4.95"/>
<circle cx="336.5" cy="611.8" r="4.95"/>
<circle cx="339.5" cy="612.4" r="4.95"/>
<circle cx="342.6" cy="613.3" r="4.95"/>
<circle cx="345.6" cy="614.0" r="4.95"/>
<circle cx="348.7" cy="614.5" r="4.95"/>
<circle cx="351.7" cy="615.1" r="4.95"/>
<circle cx="354.8" cy="615.6" r="4.95"/>
<circle cx="357.8" cy="616.2" r="4.95"/>
<circle cx="360.8" cy="616.9" r="4.95"/>
<circle cx="363.8" cy="618.0" r="4.95"/>
<circle cx="366.8" cy="618.3" r="4.95"/>
<circle cx="369.8" cy="619.1" r="4.95"/>
<circle cx="372.8" cy="619.9" r="4.95"/>
<circle cx="375.8" cy="620.8" r="4.95"/>
<circle cx="378.8" cy="621.8" r="4.95"/>
<circle cx="381.8" cy="622.3" r="4.95"/>
<circle cx="392.7" cy="613.9" r="4.95"/>
<circle cx="392.7" cy="614.4" r="4.95"/>
<circle cx="391.7" cy="616.2" r="4.95"/>
<circle cx="394.4" cy="617.6" r="4.95"/>
<circle cx="394.9" cy="618.3" r="4.95"/>
<circle cx="393.5" cy="619.7" r="4.95"/>
<circle cx="392.0" cy="617.0" r="4.95"/>
<circle cx="393.0" cy="617.1" r="4.95"/>
<circle cx="394.2" cy="618.3" r="4.95"/>
<circle cx="394.7" cy="618.6" r="4.95"/>
<circle cx="392.6" cy="619.6" r="4.95"/>
<circle cx="391.6" cy="618.3" r="4.95"/>
<circle cx="394.8" cy="619.2" r="4.95"/>
<circle cx="397.9" cy="619.9" r="4.95"/>
<circle cx="401.0" cy="621.0" r="4.95"/>
<circle cx="404.1" cy="621.9" r="4.95"/>
<circle cx="407.2" cy="623.0" r="4.95"/>
<circle cx="410.3" cy="623.9" r="4.95"/>
<circle cx="413.4" cy="625.1" r="4.95"/>
<circle cx="416.4" cy="626.2" r="4.95"/>
<circle cx="419.6" cy="626.8" r="4.95"/>
<circle cx="422.6" cy="628.2" r="4.95"/>
<circle cx="425.6" cy="629.4" r="4.95"/>
<circle cx="428.7" cy="630.3" r="4.95"/>
<circle cx="431.8" cy="631.3" r="4.95"/>
<circle cx="434.7" cy="632.8" r="4.95"/>
<circle cx="437.8" cy="633.8" r="4.95"/>
<circle cx="440.7" cy="635.1" r="4.95"/>
<circle cx="443.8" cy="636.2" r="4.95"/>
<circle cx="459.6" cy="630.9" r="4.95"/>
<circle cx="460.2" cy="632.2" r="4.95"/>
<circle cx="459.4" cy="633.2" r="4.95"/>
<circle cx="459.0" cy="635.0" r="4.95"/>
<circle cx="462.5" cy="634.4" r="4.95"/>
<circle cx="461.6" cy="637.4" r="4.95"/>
<circle cx="458.4" cy="636.2" r="4.95"/>
<circle cx="458.7" cy="633.0" r="4.95"/>
<circle cx="460.5" cy="633.4" r="4.95"/>
<circle cx="458.2" cy="634.8" r="4.95"/>
<circle cx="458.2" cy="635.4" r="4.95"/>
<circle cx="459.0" cy="634.6" r="4.95"/>
<circle cx="461.9" cy="635.9" r="4.95"/>
<circle cx="464.8" cy="637.1" r="4.95"/>
<circle cx="467.7" cy="638.5" r="4.95"/>
<circle cx="470.5" cy="640.0" r="4.95"/>
<circle cx="473.4" cy="641.4" r="4.95"/>
<circle cx="476.2" cy="642.9" r="4.95"/>
<circle cx="479.2" cy="643.9" r="4.95"/>
<circle cx="482.1" cy="645.4" r="4.95"/>
<circle cx="484.8" cy="647.2" r="4.95"/>
<circle cx="487.5" cy="648.7" r="4.95"/>
<circle cx="490.4" cy="650.1" r="4.95"/>
<circle cx="493.2" cy="651.5" r="4.95"/>
<circle cx="496.1" cy="652.8" r="4.95"/>
<circle cx="498.9" cy="654.3" r="4.95"/>
<circle cx="501.6" cy="655.9" r="4.95"/>
<circle cx="504.2" cy="657.9" r="4.95"/>
<circle cx="507.1" cy="659.1" r="4.95"/>
<circle cx="525.2" cy="658.9" r="4.95"/>
<circle cx="524.7" cy="658.5" r="4.95"/>
<circle cx="523.4" cy="659.6" r="4.95"/>
<circle cx="525.8" cy="662.3" r="4.95"/>
<circle cx="524.0" cy="662.3" r="4.95"/>
<circle cx="523.0" cy="661.7" r="4.95"/>
<circle cx="523.8" cy="661.6" r="4.95"/>
<circle cx="522.0" cy="661.7" r="4.95"/>
<circle cx="524.4" cy="662.8" r="4.95"/>
<circle cx="526.8" cy="660.0" r="4.95"/>
<circle cx="525.2" cy="662.7" r="4.95"/>
<circle cx="523.2" cy="660.1" r="4.95"/>
<circle cx="525.8" cy="662.0" r="4.95"/>
<circle cx="528.7" cy="663.4" r="4.95"/>
<circle cx="531.4" cy="665.1" r="4.95"/>
<circle cx="534.1" cy="667.0" r="4.95"/>
<circle cx="536.7" cy="668.8" r="4.95"/>
<circle cx="539.4" cy="670.7" r="4.95"/>
<circle cx="542.1" cy="672.2" r="4.95"/>
<circle cx="544.7" cy="674.2" r="4.95"/>
<circle cx="547.3" cy="676.0" r="4.95"/>
<circle cx="549.8" cy="678.1" r="4.95"/>
<circle cx="552.4" cy="680.0" r="4.95"/>
<circle cx="554.9" cy="681.9" r="4.95"/>
<circle cx="557.7" cy="683.6" r="4.95"/>
<circle cx="560.1" cy="685.6" r="4.95"/>
<circle cx="562.5" cy="687.8" r="4.95"/>
<circle cx="565.2" cy="689.5" r="4.95"/>
<circle cx="567.4" cy="691.8" r="4.95"/>
<circle cx="586.2" cy="694.7" r="4.95"/>
<circle cx="584.9" cy="695.0" r="4.95"/>
<circle cx="584.0" cy="694.8" r="4.95"/>
<circle cx="585.2" cy="695.2" r="4.95"/>
<circle cx="581.8" cy="696.8" r="4.95"/>
<circle cx="585.1" cy="698.5" r="4.95"/>
<circle cx="583.6" cy="697.2" r="4.95"/>
<circle cx="584.4" cy="694.1" r="4.95"/>
<circle cx="585.1" cy="699.2" r="4.95"/>
<circle cx="582.5" cy="697.3" r="4.95"/>
<circle cx="586.3" cy="695.6" r="4.95"/>
<circle cx="583.2" cy="695.9" r="4.95"/>
<circle cx="585.5" cy="697.6" r="4.95"/>
<circle cx="587.4" cy="699.9" r="4.95"/>
<circle cx="589.4" cy="702.0" r="4.95"/>
<circle cx="591.3" cy="704.2" r="4.95"/>
<circle cx="593.6" cy="705.9" r="4.95"/>
<circle cx="595.4" cy="708.2" r="4.95"/>
<circle cx="597.3" cy="710.5" r="4.95"/>
<circle cx="599.2" cy="712.5" r="4.95"/>
<circle cx="601.3" cy="714.6" r="4.95"/>
<circle cx="602.9" cy="717.0" r="4.95"/>
<circle cx="604.8" cy="719.1" r="4.95"/>
<circle cx="606.5" cy="721.5" r="4.95"/>
<circle cx="608.2" cy="723.8" r="4.95"/>
<circle cx="610.2" cy="725.9" r="4.95"/>
<circle cx="611.8" cy="728.2" r="4.95"/>
<circle cx="613.3" cy="730.7" r="4.95"/>
<circle cx="614.8" cy="733.1" r="4.95"/>
<circle cx="629.7" cy="742.6" r="4.95"/>
<circle cx="628.4" cy="740.2" r="4.95"/>
<circle cx="627.3" cy="739.2" r="4.95"/>
<circle cx="628.9" cy="740.3" r="4.95"/>
<circle cx="628.0" cy="738.1" r="4.95"/>
<circle cx="626.4" cy="740.5" r="4.95"/>
<circle cx="630.1" cy="740.1" r="4.95"/>
<circle cx="627.5" cy="742.3" r="4.95"/>
<circle cx="630.4" cy="740.4" r="4.95"/>
<circle cx="628.5" cy="738.1" r="4.95"/>
<circle cx="627.3" cy="739.5" r="4.95"/>
<circle cx="627.4" cy="738.7" r="4.95"/>
<circle cx="628.4" cy="741.2" r="4.95"/>
<circle cx="629.9" cy="743.3" r="4.95"/>
<circle cx="631.0" cy="745.7" r="4.95"/>
<circle cx="632.3" cy="748.0" r="4.95"/>
<circle cx="633.2" cy="750.5" r="4.95"/>
<circle cx="634.6" cy="752.8" r="4.95"/>
<circle cx="635.7" cy="755.1" r="4.95"/>
<circle cx="636.7" cy="757.5" r="4.95"/>
<circle cx="637.5" cy="760.1" r="4.95"/>
<circle cx="638.5" cy="762.5" r="4.95"/>
<circle cx="639.3" cy="765.0" r="4.95"/>
<circle cx="640.2" cy="767.4" r="4.95"/>
<circle cx="640.7" cy="770.0" r="4.95"/>
<circle cx="641.7" cy="772.4" r="4.95"/>
<circle cx="642.4" cy="774.9" r="4.95"/>
<circle cx="642.8" cy="777.5" r="4.95"/>
<circle cx="643.3" cy="780.0" r="4.95"/>
<circle cx="657.8" cy="793.8" r="4.95"/>
<circle cx="654.6" cy="788.3" r="4.95"/>
<circle cx="651.6" cy="784.9" r="4.95"/>
<circle cx="649.9" cy="783.9" r="4.95"/>
<circle cx="649.4" cy="783.7" r="4.95"/>
<circle cx="649.2" cy="784.5" r="4.95"/>
<circle cx="650.0" cy="786.1" r="4.95"/>
<circle cx="649.5" cy="784.0" r="4.95"/>
<circle cx="648.6" cy="784.0" r="4.95"/>
<circle cx="647.7" cy="786.4" r="4.95"/>
<circle cx="649.4" cy="785.5" r="4.95"/>
<circle cx="649.0" cy="784.7" r="4.95"/>
<circle cx="649.0" cy="787.2" r="4.95"/>
<circle cx="649.6" cy="789.5" r="4.95"/>
<circle cx="649.9" cy="791.9" r="4.95"/>
<circle cx="649.8" cy="794.4" r="4.95"/>
<circle cx="650.3" cy="796.7" r="4.95"/>
<circle cx="650.5" cy="799.1" r="4.95"/>
<circle cx="650.2" cy="801.5" r="4.95"/>
<circle cx="650.3" cy="803.9" r="4.95"/>
<circle cx="650.4" cy="806.3" r="4.95"/>
<circle cx="650.1" cy="808.7" r="4.95"/>
<circle cx="649.9" cy="811.0" r="4.95"/>
<circle cx="649.9" cy="813.4" r="4.95"/>
<circle cx="649.5" cy="815.7" r="4.95"/>
<circle cx="649.0" cy="818.1" r="4.95"/>
<circle cx="648.5" cy="820.4" r="4.95"/>
<circle cx="648.1" cy="822.7" r="4.95"/>
<circle cx="647.7" cy="825.0" r="4.95"/>
<circle cx="647.4" cy="827.3" r="4.95"/>
<circle cx="646.6" cy="829.5" r="4.95"/>
<circle cx="649.3" cy="847.8" r="4.95"/>
<circle cx="650.1" cy="842.2" r="4.95"/>
<circle cx="649.5" cy="840.0" r="4.95"/>
<circle cx="647.2" cy="841.5" r="4.95"/>
<circle cx="648.0" cy="840.2" r="4.95"/>
<circle cx="648.7" cy="837.7" r="4.95"/>
<circle cx="650.5" cy="838.0" r="4.95"/>
<circle cx="648.2" cy="841.0" r="4.95"/>
<circle cx="649.1" cy="841.5" r="4.95"/>
<circle cx="647.8" cy="837.3" r="4.95"/>
<circle cx="648.0" cy="840.5" r="4.95"/>
<circle cx="648.7" cy="838.4" r="4.95"/>
<circle cx="647.6" cy="840.7" r="4.95"/>
<circle cx="646.5" cy="842.9" r="4.95"/>
<circle cx="645.6" cy="845.1" r="4.95"/>
<circle cx="644.5" cy="847.3" r="4.95"/>
<circle cx="643.6" cy="849.6" r="4.95"/>
<circle cx="642.2" cy="851.6" r="4.95"/>
<circle cx="641.0" cy="853.7" r="4.95"/>
<circle cx="640.0" cy="855.8" r="4.95"/>
<circle cx="638.5" cy="857.8" r="4.95"/>
<circle cx="637.4" cy="859.9" r="4.95"/>
<circle cx="636.2" cy="862.0" r="4.95"/>
<circle cx="634.7" cy="863.8" r="4.95"/>
<circle cx="633.2" cy="865.7" r="4.95"/>
<circle cx="631.8" cy="867.7" r="4.95"/>
<circle cx="630.4" cy="869.6" r="4.95"/>
<circle cx="628.8" cy="871.3" r="4.95"/>
<circle cx="627.2" cy="873.1" r="4.95"/>
<circle cx="625.7" cy="874.9" r="4.95"/>
<circle cx="624.2" cy="876.7" r="4.95"/>
<circle cx="613.7" cy="897.3" r="4.95"/>
<circle cx="617.0" cy="893.0" r="4.95"/>
<circle cx="618.7" cy="891.0" r="4.95"/>
<circle cx="617.9" cy="891.1" r="4.95"/>
<circle cx="618.6" cy="889.2" r="4.95"/>
<circle cx="617.6" cy="890.4" r="4.95"/>
<circle cx="617.6" cy="888.9" r="4.95"/>
<circle cx="618.0" cy="890.6" r="4.95"/>
<circle cx="620.4" cy="889.6" r="4.95"/>
<circle cx="618.6" cy="889.4" r="4.95"/>
<circle cx="617.9" cy="889.0" r="4.95"/>
<circle cx="618.8" cy="889.5" r="4.95"/>
<circle cx="616.7" cy="890.9" r="4.95"/>
<circle cx="614.8" cy="892.4" r="4.95"/>
<circle cx="613.1" cy="894.3" r="4.95"/>
<circle cx="611.1" cy="895.7" r="4.95"/>
<circle cx="609.0" cy="897.1" r="4.95"/>
<circle cx="607.1" cy="898.7" r="4.95"/>
<circle cx="605.2" cy="900.1" r="4.95"/>
<circle cx="603.3" cy="901.7" r="4.95"/>
<circle cx="601.1" cy="902.8" r="4.95"/>
<circle cx="599.1" cy="904.2" r="4.95"/>
<circle cx="597.3" cy="905.9" r="4.95"/>
<circle cx="595.2" cy="907.1" r="4.95"/>
<circle cx="592.9" cy="908.2" r="4.95"/>
<circle cx="590.9" cy="909.6" r="4.95"/>
<circle cx="588.9" cy="910.8" r="4.95"/>
<circle cx="586.9" cy="912.2" r="4.95"/>
<circle cx="584.8" cy="913.4" r="4.95"/>
<circle cx="582.7" cy="914.7" r="4.95"/>
<circle cx="580.6" cy="915.9" r="4.95"/>
<circle cx="560.0" cy="936.4" r="4.95"/>
<circle cx="565.8" cy="932.4" r="4.95"/>
<circle cx="568.2" cy="929.2" r="4.95"/>
<circle cx="565.8" cy="926.6" r="4.95"/>
<circle cx="566.4" cy="929.2" r="4.95"/>
<circle cx="567.9" cy="929.2" r="4.95"/>
<circle cx="567.6" cy="928.6" r="4.95"/>
<circle cx="565.6" cy="927.8" r="4.95"/>
<circle cx="567.9" cy="928.1" r="4.95"/>
<circle cx="568.2" cy="927.1" r="4.95"/>
<circle cx="568.3" cy="928.2" r="4.95"/>
<circle cx="568.5" cy="927.0" r="4.95"/>
<circle cx="566.2" cy="927.9" r="4.95"/>
<circle cx="563.9" cy="928.9" r="4.95"/>
<circle cx="561.5" cy="929.9" r="4.95"/>
<circle cx="559.3" cy="931.0" r="4.95"/>
<circle cx="557.0" cy="931.9" r="4.95"/>
<circle cx="554.8" cy="933.1" r="4.95"/>
<circle cx="552.5" cy="934.1" r="4.95"/>
<circle cx="550.1" cy="934.8" r="4.95"/>
<circle cx="548.0" cy="936.1" r="4.95"/>
<circle cx="545.5" cy="936.7" r="4.95"/>
<circle cx="543.3" cy="937.9" r="4.95"/>
<circle cx="541.0" cy="938.7" r="4.95"/>
<circle cx="538.7" cy="939.7" r="4.95"/>
<circle cx="536.2" cy="940.2" r="4.95"/>
<circle cx="533.9" cy="941.1" r="4.95"/>
<circle cx="531.6" cy="942.1" r="4.95"/>
<circle cx="529.1" cy="942.5" r="4.95"/>
<circle cx="526.8" cy="943.3" r="4.95"/>
<circle cx="524.5" cy="944.3" r="4.95"/>
<circle cx="496.2" cy="961.6" r="4.95"/>
<circle cx="505.1" cy="957.7" r="4.95"/>
<circle cx="509.7" cy="954.7" r="4.95"/>
<circle cx="508.9" cy="952.4" r="4.95"/>
<circle cx="509.6" cy="952.1" r="4.95"/>
<circle cx="507.2" cy="953.5" r="4.95"/>
<circle cx="510.8" cy="951.9" r="4.95"/>
<circle cx="509.3" cy="954.4" r="4.95"/>
<circle cx="507.0" cy="953.2" r="4.95"/>
<circle cx="508.4" cy="952.4" r="4.95"/>
<circle cx="508.6" cy="951.6" r="4.95"/>
<circle cx="510.3" cy="952.4" r="4.95"/>
<circle cx="507.9" cy="953.3" r="4.95"/>
<circle cx="505.4" cy="953.8" r="4.95"/>
<circle cx="502.9" cy="954.2" r="4.95"/>
<circle cx="500.4" cy="954.6" r="4.95"/>
<circle cx="498.0" cy="955.5" r="4.95"/>
<circle cx="495.5" cy="955.9" r="4.95"/>
<circle cx="493.0" cy="956.4" r="4.95"/>
<circle cx="490.5" cy="957.0" r="4.95"/>
<circle cx="488.0" cy="957.4" r="4.95"/>
<circle cx="485.5" cy="957.6" r="4.95"/>
<circle cx="483.0" cy="957.9" r="4.95"/>
<circle cx="480.5" cy="958.3" r="4.95"/>
<circle cx="478.0" cy="958.8" r="4.95"/>
<circle cx="475.5" cy="959.2" r="4.95"/>
<circle cx="473.0" cy="959.4" r="4.95"/>
<circle cx="470.5" cy="959.7" r="4.95"/>
<circle cx="468.0" cy="960.3" r="4.95"/>
<circle cx="465.5" cy="960.6" r="4.95"/>
<circle cx="429.9" cy="974.9" r="4.95"/>
<circle cx="440.2" cy="972.1" r="4.95"/>
<circle cx="446.4" cy="970.5" r="4.95"/>
<circle cx="449.9" cy="968.1" r="4.95"/>
<circle cx="452.2" cy="967.0" r="4.95"/>
<circle cx="449.3" cy="964.8" r="4.95"/>
<circle cx="449.7" cy="965.1" r="4.95"/>
<circle cx="449.4" cy="968.0" r="4.95"/>
<circle cx="449.3" cy="964.5" r="4.95"/>
<circle cx="451.2" cy="964.2" r="4.95"/>
<circle cx="451.6" cy="965.8" r="4.95"/>
<circle cx="448.5" cy="967.4" r="4.95"/>
<circle cx="451.0" cy="965.6" r="4.95"/>
<circle cx="448.6" cy="965.7" r="4.95"/>
<circle cx="446.2" cy="966.2" r="4.95"/>
<circle cx="443.8" cy="966.1" r="4.95"/>
<circle cx="441.4" cy="966.3" r="4.95"/>
<circle cx="439.0" cy="966.2" r="4.95"/>
<circle cx="436.5" cy="966.2" r="4.95"/>
<circle cx="434.1" cy="966.2" r="4.95"/>
<circle cx="431.7" cy="966.1" r="4.95"/>
<circle cx="429.3" cy="966.5" r="4.95"/>
<circle cx="426.9" cy="966.3" r="4.95"/>
<circle cx="424.4" cy="966.2" r="4.95"/>
<circle cx="422.0" cy="966.1" r="4.95"/>
<circle cx="419.6" cy="966.0" r="4.95"/>
<circle cx="417.2" cy="965.7" r="4.95"/>
<circle cx="414.8" cy="966.0" r="4.95"/>
<circle cx="412.4" cy="965.7" r="4.95"/>
<circle cx="410.0" cy="965.7" r="4.95"/>
<circle cx="377.5" cy="972.6" r="4.95"/>
<circle cx="387.7" cy="971.8" r="4.95"/>
<circle cx="394.1" cy="970.7" r="4.95"/>
<circle cx="395.3" cy="969.2" r="4.95"/>
<circle cx="395.3" cy="969.8" r="4.95"/>
<circle cx="394.6" cy="966.9" r="4.95"/>
<circle cx="395.1" cy="966.8" r="4.95"/>
<circle cx="395.4" cy="967.9" r="4.95"/>
<circle cx="393.3" cy="966.5" r="4.95"/>
<circle cx="395.1" cy="969.8" r="4.95"/>
<circle cx="395.6" cy="966.4" r="4.95"/>
<circle cx="395.8" cy="968.0" r="4.95"/>
<circle cx="393.3" cy="967.5" r="4.95"/>
<circle cx="390.8" cy="967.1" r="4.95"/>
<circle cx="388.3" cy="966.4" r="4.95"/>
<circle cx="385.8" cy="965.9" r="4.95"/>
<circle cx="383.3" cy="965.8" r="4.95"/>
<circle cx="380.8" cy="965.0" r="4.95"/>
<circle cx="378.4" cy="964.3" r="4.95"/>
<circle cx="375.9" cy="963.7" r="4.95"/>
<circle cx="373.4" cy="963.1" r="4.95"/>
<circle cx="371.0" cy="962.3" r="4.95"/>
<circle cx="368.6" cy="961.5" r="4.95"/>
<circle cx="366.1" cy="961.1" r="4.95"/>
<circle cx="363.8" cy="960.2" r="4.95"/>
<circle cx="326.7" cy="966.2" r="4.95"/>
<circle cx="335.2" cy="967.5" r="4.95"/>
<circle cx="342.2" cy="967.1" r="4.95"/>
<circle cx="346.8" cy="966.1" r="4.95"/>
<circle cx="350.6" cy="963.1" r="4.95"/>
<circle cx="351.8" cy="959.5" r="4.95"/>
<circle cx="348.4" cy="960.8" r="4.95"/>
<circle cx="351.0" cy="959.6" r="4.95"/>
<circle cx="352.9" cy="959.4" r="4.95"/>
<circle cx="349.4" cy="958.7" r="4.95"/>
<circle cx="352.5" cy="959.0" r="4.95"/>
<circle cx="349.4" cy="959.3" r="4.95"/>
<circle cx="350.5" cy="960.7" r="4.95"/>
<circle cx="352.2" cy="960.1" r="4.95"/>
<circle cx="349.8" cy="959.1" r="4.95"/>
<circle cx="347.4" cy="957.9" r="4.95"/>
<circle cx="345.1" cy="956.6" r="4.95"/>
<circle cx="342.8" cy="955.3" r="4.95"/>
<circle cx="340.6" cy="953.9" r="4.95"/>
<circle cx="338.3" cy="952.6" r="4.95"/>
<circle cx="335.9" cy="951.5" r="4.95"/>
<circle cx="333.8" cy="949.9" r="4.95"/>
<circle cx="331.6" cy="948.6" r="4.95"/>
<circle cx="329.6" cy="946.8" r="4.95"/>
<circle cx="295.3" cy="944.8" r="4.95"/>
<circle cx="301.1" cy="946.9" r="4.95"/>
<circle cx="305.0" cy="948.4" r="4.95"/>
<circle cx="308.3" cy="949.5" r="4.95"/>
<circle cx="311.2" cy="950.5" r="4.95"/>
<circle cx="313.2" cy="951.7" r="4.95"/>
<circle cx="315.5" cy="952.4" r="4.95"/>
<circle cx="318.3" cy="951.2" r="4.95"/>
<circle cx="317.7" cy="950.5" r="4.95"/>
<circle cx="319.8" cy="951.7" r="4.95"/>
<circle cx="319.9" cy="950.6" r="4.95"/>
<circle cx="321.7" cy="950.9" r="4.95"/>
<circle cx="321.6" cy="950.8" r="4.95"/>
<circle cx="322.8" cy="949.8" r="4.95"/>
<circle cx="323.3" cy="948.0" r="4.95"/>
<circle cx="326.2" cy="949.2" r="4.95"/>
<circle cx="328.9" cy="948.1" r="4.95"/>
<circle cx="328.8" cy="945.7" r="4.95"/>
<circle cx="327.6" cy="945.1" r="4.95"/>
<circle cx="326.3" cy="944.7" r="4.95"/>
<circle cx="325.2" cy="944.2" r="4.95"/>
<circle cx="323.9" cy="943.7" r="4.95"/>
<circle cx="322.7" cy="943.3" r="4.95"/>
<circle cx="322.2" cy="941.7" r="4.95"/>
<circle cx="320.7" cy="941.6" r="4.95"/>
<circle cx="319.0" cy="941.7" r="4.95"/>
<circle cx="318.8" cy="939.8" r="4.95"/>
<circle cx="316.6" cy="940.7" r="4.95"/>
<circle cx="316.0" cy="939.2" r="4.95"/>
<circle cx="314.7" cy="938.8" r="4.95"/>
<circle cx="314.6" cy="936.9" r="4.95"/>
<circle cx="313.2" cy="936.5" r="4.95"/>
<circle cx="311.7" cy="936.2" r="4.95"/>
<circle cx="311.4" cy="934.6" r="4.95"/>
<circle cx="311.2" cy="933.0" r="4.95"/>
<circle cx="308.5" cy="933.9" r="4.95"/>
<circle cx="307.7" cy="932.9" r="4.95"/>
<circle cx="307.8" cy="931.0" r="4.95"/>
<circle cx="307.4" cy="929.5" r="4.95"/>
<circle cx="304.7" cy="930.3" r="4.95"/>
<circle cx="304.3" cy="928.9" r="4.95"/>
<circle cx="274.5" cy="921.6" r="4.95"/>
<circle cx="280.1" cy="924.6" r="4.95"/>
<circle cx="284.2" cy="926.6" r="4.95"/>
<circle cx="287.5" cy="927.5" r="4.95"/>
<circle cx="290.0" cy="928.9" r="4.95"/>
<circle cx="292.5" cy="930.1" r="4.95"/>
<circle cx="292.3" cy="928.1" r="4.95"/>
<circle cx="295.1" cy="928.8" r="4.95"/>
<circle cx="296.1" cy="929.4" r="4.95"/>
<circle cx="296.7" cy="929.7" r="4.95"/>
<circle cx="297.5" cy="928.6" r="4.95"/>
<circle cx="297.0" cy="929.1" r="4.95"/>
<circle cx="299.1" cy="928.5" r="4.95"/>
<circle cx="301.5" cy="927.4" r="4.95"/>
<circle cx="304.0" cy="929.2" r="4.95"/>
<circle cx="304.7" cy="926.8" r="4.95"/>
<circle cx="302.3" cy="927.1" r="4.95"/>
<circle cx="301.2" cy="926.4" r="4.95"/>
<circle cx="301.6" cy="924.3" r="4.95"/>
<circle cx="300.1" cy="923.8" r="4.95"/>
<circle cx="298.3" cy="923.6" r="4.95"/>
<circle cx="298.3" cy="922.0" r="4.95"/>
<circle cx="297.7" cy="920.7" r="4.95"/>
<circle cx="297.6" cy="919.2" r="4.95"/>
<circle cx="297.3" cy="917.8" r="4.95"/>
<circle cx="295.9" cy="917.2" r="4.95"/>
<circle cx="295.0" cy="916.3" r="4.95"/>
<circle cx="294.8" cy="914.8" r="4.95"/>
<circle cx="293.8" cy="913.9" r="4.95"/>
<circle cx="293.6" cy="912.5" r="4.95"/>
<circle cx="291.4" cy="912.3" r="4.95"/>
<circle cx="290.8" cy="911.1" r="4.95"/>
<circle cx="291.3" cy="909.4" r="4.95"/>
<circle cx="290.6" cy="908.2" r="4.95"/>
<circle cx="289.3" cy="907.5" r="4.95"/>
<circle cx="288.8" cy="906.3" r="4.95"/>
<circle cx="286.9" cy="905.8" r="4.95"/>
<circle cx="287.9" cy="903.8" r="4.95"/>
<circle cx="262.6" cy="894.0" r="4.95"/>
<circle cx="267.8" cy="897.1" r="4.95"/>
<circle cx="271.6" cy="899.6" r="4.95"/>
<circle cx="275.2" cy="901.7" r="4.95"/>
<circle cx="275.3" cy="901.6" r="4.95"/>
<circle cx="277.4" cy="901.3" r="4.95"/>
<circle cx="278.9" cy="902.4" r="4.95"/>
<circle cx="278.3" cy="901.2" r="4.95"/>
<circle cx="280.0" cy="901.2" r="4.95"/>
<circle cx="280.3" cy="901.6" r="4.95"/>
<circle cx="281.7" cy="902.9" r="4.95"/>
<circle cx="283.4" cy="901.5" r="4.95"/>
<circle cx="287.9" cy="903.8" r="4.95"/>
<circle cx="287.0" cy="902.8" r="4.95"/>
<circle cx="286.7" cy="901.5" r="4.95"/>
<circle cx="286.7" cy="900.2" r="4.95"/>
<circle cx="286.4" cy="898.9" r="4.95"/>
<circle cx="286.1" cy="897.6" r="4.95"/>
<circle cx="282.9" cy="897.6" r="4.95"/>
<circle cx="283.1" cy="896.1" r="4.95"/>
<circle cx="284.5" cy="894.2" r="4.95"/>
<circle cx="282.3" cy="893.7" r="4.95"/>
<circle cx="281.1" cy="892.7" r="4.95"/>
<circle cx="281.8" cy="891.1" r="4.95"/>
<circle cx="282.7" cy="889.5" r="4.95"/>
<circle cx="281.2" cy="888.6" r="4.95"/>
<circle cx="281.0" cy="887.3" r="4.95"/>
<circle cx="281.3" cy="885.9" r="4.95"/>
<circle cx="279.9" cy="885.0" r="4.95"/>
<circle cx="281.0" cy="883.3" r="4.95"/>
<circle cx="278.1" cy="882.9" r="4.95"/>
<circle cx="278.5" cy="881.4" r="4.95"/>
<circle cx="278.2" cy="880.2" r="4.95"/>
<circle cx="276.9" cy="879.2" r="4.95"/>
<circle cx="277.4" cy="877.8" r="4.95"/>
<circle cx="278.1" cy="876.2" r="4.95"/>
<circle cx="256.5" cy="862.7" r="4.95"/>
<circle cx="260.6" cy="867.6" r="4.95"/>
<circle cx="264.2" cy="870.5" r="4.95"/>
<circle cx="264.9" cy="872.1" r="4.95"/>
<circle cx="267.6" cy="873.2" r="4.95"/>
<circle cx="266.9" cy="873.1" r="4.95"/>
<circle cx="269.6" cy="873.3" r="4.95"/>
<circle cx="269.3" cy="872.2" r="4.95"/>
<circle cx="271.6" cy="872.9" r="4.95"/>
<circle cx="271.4" cy="873.8" r="4.95"/>
<circle cx="272.4" cy="874.9" r="4.95"/>
<circle cx="273.1" cy="873.1" r="4.95"/>
<circle cx="277.2" cy="876.5" r="4.95"/>
<circle cx="276.7" cy="875.3" r="4.95"/>
<circle cx="275.8" cy="874.2" r="4.95"/>
<circle cx="275.8" cy="872.9" r="4.95"/>
<circle cx="274.9" cy="871.8" r="4.95"/>
<circle cx="274.4" cy="870.6" r="4.95"/>
<circle cx="275.4" cy="869.0" r="4.95"/>
<circle cx="275.1" cy="867.8" r="4.95"/>
<circle cx="275.7" cy="866.3" r="4.95"/>
<circle cx="275.0" cy="865.2" r="4.95"/>
<circle cx="273.9" cy="864.1" r="4.95"/>
<circle cx="275.1" cy="862.6" r="4.95"/>
<circle cx="273.0" cy="861.7" r="4.95"/>
<circle cx="274.3" cy="860.1" r="4.95"/>
<circle cx="273.2" cy="859.1" r="4.95"/>
<circle cx="271.3" cy="858.2" r="4.95"/>
<circle cx="273.7" cy="856.4" r="4.95"/>
<circle cx="273.5" cy="855.1" r="4.95"/>
<circle cx="272.1" cy="854.1" r="4.95"/>
<circle cx="272.6" cy="852.7" r="4.95"/>
<circle cx="270.8" cy="851.8" r="4.95"/>
<circle cx="272.6" cy="850.1" r="4.95"/>
<circle cx="269.9" cy="849.3" r="4.95"/>
<circle cx="269.6" cy="848.1" r="4.95"/>
<circle cx="251.9" cy="831.9" r="4.95"/>
<circle cx="254.2" cy="837.7" r="4.95"/>
<circle cx="256.3" cy="841.5" r="4.95"/>
<circle cx="257.6" cy="844.6" r="4.95"/>
<circle cx="259.0" cy="847.3" r="4.95"/>
<circle cx="261.8" cy="848.4" r="4.95"/>
<circle cx="261.2" cy="849.6" r="4.95"/>
<circle cx="262.9" cy="849.7" r="4.95"/>
<circle cx="262.9" cy="849.4" r="4.95"/>
<circle cx="264.2" cy="850.7" r="4.95"/>
<circle cx="266.9" cy="852.3" r="4.95"/>
<circle cx="267.6" cy="852.8" r="4.95"/>
<circle cx="268.8" cy="852.3" r="4.95"/>
<circle cx="269.4" cy="851.2" r="4.95"/>
<circle cx="270.1" cy="848.0" r="4.95"/>
<circle cx="270.1" cy="846.7" r="4.95"/>
<circle cx="270.8" cy="845.2" r="4.95"/>
<circle cx="269.7" cy="844.1" r="4.95"/>
<circle cx="268.4" cy="843.0" r="4.95"/>
<circle cx="269.6" cy="841.5" r="4.95"/>
<circle cx="268.8" cy="840.3" r="4.95"/>
<circle cx="269.7" cy="838.8" r="4.95"/>
<circle cx="269.3" cy="837.5" r="4.95"/>
<circle cx="267.5" cy="836.5" r="4.95"/>
<circle cx="269.9" cy="834.8" r="4.95"/>
<circle cx="269.2" cy="833.6" r="4.95"/>
<circle cx="267.5" cy="832.6" r="4.95"/>
<circle cx="268.0" cy="831.2" r="4.95"/>
<circle cx="268.9" cy="829.7" r="4.95"/>
<circle cx="267.0" cy="828.7" r="4.95"/>
<circle cx="267.7" cy="827.3" r="4.95"/>
<circle cx="266.9" cy="826.1" r="4.95"/>
<circle cx="267.2" cy="824.7" r="4.95"/>
<circle cx="266.6" cy="823.5" r="4.95"/>
<circle cx="266.3" cy="822.2" r="4.95"/>
<circle cx="266.6" cy="820.9" r="4.95"/>
<circle cx="267.2" cy="819.5" r="4.95"/>
<circle cx="266.8" cy="818.2" r="4.95"/>
<circle cx="264.5" cy="817.3" r="4.95"/>
<circle cx="246.7" cy="801.8" r="4.95"/>
<circle cx="249.7" cy="807.4" r="4.95"/>
<circle cx="251.2" cy="811.5" r="4.95"/>
<circle cx="252.8" cy="814.5" r="4.95"/>
<circle cx="254.3" cy="816.8" r="4.95"/>
<circle cx="255.9" cy="817.4" r="4.95"/>
<circle cx="256.7" cy="819.0" r="4.95"/>
<circle cx="256.6" cy="818.9" r="4.95"/>
<circle cx="257.5" cy="819.4" r="4.95"/>
<circle cx="260.5" cy="820.1" r="4.95"/>
<circle cx="261.1" cy="821.0" r="4.95"/>
<circle cx="260.5" cy="822.0" r="4.95"/>
<circle cx="263.1" cy="820.1" r="4.95"/>
<circle cx="264.3" cy="821.2" r="4.95"/>
<circle cx="266.6" cy="816.9" r="4.95"/>
<circle cx="264.1" cy="816.1" r="4.95"/>
<circle cx="265.0" cy="814.6" r="4.95"/>
<circle cx="264.2" cy="813.4" r="4.95"/>
<circle cx="265.9" cy="811.9" r="4.95"/>
<circle cx="263.7" cy="810.9" r="4.95"/>
<circle cx="265.6" cy="809.3" r="4.95"/>
<circle cx="264.9" cy="808.1" r="4.95"/>
<circle cx="264.3" cy="806.9" r="4.95"/>
<circle cx="265.1" cy="805.5" r="4.95"/>
<circle cx="263.2" cy="804.5" r="4.95"/>
<circle cx="264.1" cy="803.0" r="4.95"/>
<circle cx="263.6" cy="801.8" r="4.95"/>
<circle cx="262.2" cy="800.8" r="4.95"/>
<circle cx="262.7" cy="799.4" r="4.95"/>
<circle cx="261.1" cy="798.4" r="4.95"/>
<circle cx="261.7" cy="797.0" r="4.95"/>
<circle cx="260.7" cy="795.9" r="4.95"/>
<circle cx="261.4" cy="794.4" r="4.95"/>
<circle cx="260.1" cy="793.4" r="4.95"/>
<circle cx="259.9" cy="792.1" r="4.95"/>
<circle cx="261.7" cy="790.4" r="4.95"/>
<circle cx="259.7" cy="789.5" r="4.95"/>
<circle cx="260.6" cy="788.0" r="4.95"/>
<circle cx="240.6" cy="773.1" r="4.95"/>
<circle cx="243.5" cy="778.3" r="4.95"/>
<circle cx="245.3" cy="782.5" r="4.95"/>
<circle cx="247.3" cy="785.5" r="4.95"/>
<circle cx="248.1" cy="787.9" r="4.95"/>
<circle cx="249.3" cy="790.2" r="4.95"/>
<circle cx="252.1" cy="789.4" r="4.95"/>
<circle cx="253.4" cy="791.1" r="4.95"/>
<circle cx="252.6" cy="790.2" r="4.95"/>
<circle cx="254.1" cy="792.2" r="4.95"/>
<circle cx="255.5" cy="790.7" r="4.95"/>
<circle cx="255.0" cy="791.0" r="4.95"/>
<circle cx="258.0" cy="791.5" r="4.95"/>
<circle cx="258.3" cy="792.1" r="4.95"/>
<circle cx="259.6" cy="788.3" r="4.95"/>
<circle cx="260.2" cy="786.8" r="4.95"/>
<circle cx="260.6" cy="785.4" r="4.95"/>
<circle cx="258.2" cy="784.7" r="4.95"/>
<circle cx="258.8" cy="783.2" r="4.95"/>
<circle cx="258.1" cy="782.0" r="4.95"/>
<circle cx="257.4" cy="780.9" r="4.95"/>
<circle cx="256.7" cy="779.8" r="4.95"/>
<circle cx="259.0" cy="777.8" r="4.95"/>
<circle cx="257.7" cy="776.8" r="4.95"/>
<circle cx="257.9" cy="775.4" r="4.95"/>
<circle cx="256.6" cy="774.5" r="4.95"/>
<circle cx="255.2" cy="773.5" r="4.95"/>
<circle cx="255.0" cy="772.2" r="4.95"/>
<circle cx="256.8" cy="770.4" r="4.95"/>
<circle cx="256.1" cy="769.2" r="4.95"/>
<circle cx="253.9" cy="768.6" r="4.95"/>
<circle cx="253.9" cy="767.2" r="4.95"/>
<circle cx="254.3" cy="765.7" r="4.95"/>
<circle cx="253.7" cy="764.6" r="4.95"/>
<circle cx="254.2" cy="763.1" r="4.95"/>
<circle cx="251.8" cy="762.5" r="4.95"/>
<circle cx="252.7" cy="760.8" r="4.95"/>
<circle cx="231.8" cy="745.4" r="4.95"/>
<circle cx="234.4" cy="750.6" r="4.95"/>
<circle cx="236.6" cy="754.8" r="4.95"/>
<circle cx="238.5" cy="757.2" r="4.95"/>
<circle cx="239.6" cy="759.9" r="4.95"/>
<circle cx="241.0" cy="762.1" r="4.95"/>
<circle cx="242.5" cy="763.3" r="4.95"/>
<circle cx="242.5" cy="764.1" r="4.95"/>
<circle cx="244.4" cy="762.9" r="4.95"/>
<circle cx="245.7" cy="765.7" r="4.95"/>
<circle cx="245.7" cy="763.7" r="4.95"/>
<circle cx="248.3" cy="764.3" r="4.95"/>
<circle cx="248.3" cy="765.1" r="4.95"/>
<circle cx="249.3" cy="765.6" r="4.95"/>
<circle cx="251.0" cy="766.8" r="4.95"/>
<circle cx="251.0" cy="761.4" r="4.95"/>
<circle cx="253.3" cy="759.3" r="4.95"/>
<circle cx="251.4" cy="758.5" r="4.95"/>
<circle cx="250.4" cy="757.5" r="4.95"/>
<circle cx="249.7" cy="756.3" r="4.95"/>
<circle cx="249.6" cy="755.0" r="4.95"/>
<circle cx="249.5" cy="753.6" r="4.95"/>
<circle cx="249.1" cy="752.4" r="4.95"/>
<circle cx="249.4" cy="750.9" r="4.95"/>
<circle cx="249.2" cy="749.6" r="4.95"/>
<circle cx="247.3" cy="748.9" r="4.95"/>
<circle cx="246.6" cy="747.8" r="4.95"/>
<circle cx="245.9" cy="746.6" r="4.95"/>
<circle cx="246.2" cy="745.1" r="4.95"/>
<circle cx="246.8" cy="743.5" r="4.95"/>
<circle cx="245.0" cy="742.8" r="4.95"/>
<circle cx="244.6" cy="741.6" r="4.95"/>
<circle cx="244.7" cy="740.1" r="4.95"/>
<circle cx="243.9" cy="739.0" r="4.95"/>
<circle cx="244.1" cy="737.5" r="4.95"/>
<circle cx="243.1" cy="736.6" r="4.95"/>
<circle cx="220.2" cy="722.2" r="4.95"/>
<circle cx="223.8" cy="727.4" r="4.95"/>
<circle cx="226.7" cy="731.1" r="4.95"/>
<circle cx="228.3" cy="733.7" r="4.95"/>
<circle cx="229.9" cy="736.0" r="4.95"/>
<circle cx="231.2" cy="737.8" r="4.95"/>
<circle cx="233.0" cy="739.8" r="4.95"/>
<circle cx="233.7" cy="740.3" r="4.95"/>
<circle cx="234.4" cy="739.4" r="4.95"/>
<circle cx="234.8" cy="739.9" r="4.95"/>
<circle cx="236.4" cy="741.1" r="4.95"/>
<circle cx="238.1" cy="741.8" r="4.95"/>
<circle cx="238.6" cy="741.9" r="4.95"/>
<circle cx="240.2" cy="739.9" r="4.95"/>
<circle cx="240.2" cy="741.3" r="4.95"/>
<circle cx="243.3" cy="740.9" r="4.95"/>
<circle cx="242.4" cy="736.8" r="4.95"/>
<circle cx="242.9" cy="735.2" r="4.95"/>
<circle cx="241.1" cy="734.6" r="4.95"/>
<circle cx="242.8" cy="732.4" r="4.95"/>
<circle cx="241.1" cy="731.7" r="4.95"/>
<circle cx="239.4" cy="731.1" r="4.95"/>
<circle cx="240.5" cy="729.1" r="4.95"/>
<circle cx="240.0" cy="727.9" r="4.95"/>
<circle cx="240.0" cy="726.4" r="4.95"/>
<circle cx="239.1" cy="725.4" r="4.95"/>
<circle cx="238.2" cy="724.4" r="4.95"/>
<circle cx="236.5" cy="723.8" r="4.95"/>
<circle cx="237.2" cy="722.0" r="4.95"/>
<circle cx="236.1" cy="721.1" r="4.95"/>
<circle cx="236.0" cy="719.7" r="4.95"/>
<circle cx="234.3" cy="719.1" r="4.95"/>
<circle cx="233.0" cy="718.3" r="4.95"/>
<circle cx="233.0" cy="716.8" r="4.95"/>
<circle cx="233.6" cy="715.0" r="4.95"/>
<circle cx="231.6" cy="714.6" r="4.95"/>
<circle cx="209.1" cy="701.9" r="4.95"/>
<circle cx="212.5" cy="706.8" r="4.95"/>
<circle cx="215.8" cy="709.9" r="4.95"/>
<circle cx="217.6" cy="712.4" r="4.95"/>
<circle cx="219.6" cy="714.9" r="4.95"/>
<circle cx="221.2" cy="716.8" r="4.95"/>
<circle cx="221.5" cy="716.2" r="4.95"/>
<circle cx="223.9" cy="717.2" r="4.95"/>
<circle cx="224.0" cy="717.3" r="4.95"/>
<circle cx="224.9" cy="715.8" r="4.95"/>
<circle cx="226.2" cy="715.9" r="4.95"/>
<circle cx="227.7" cy="716.7" r="4.95"/>
<circle cx="228.4" cy="717.5" r="4.95"/>
<circle cx="228.9" cy="717.2" r="4.95"/>
<circle cx="229.3" cy="718.5" r="4.95"/>
<circle cx="232.0" cy="714.4" r="4.95"/>
<circle cx="230.3" cy="713.8" r="4.95"/>
<circle cx="232.2" cy="711.3" r="4.95"/>
<circle cx="230.1" cy="710.9" r="4.95"/>
<circle cx="229.2" cy="709.9" r="4.95"/>
<circle cx="229.7" cy="708.2" r="4.95"/>
<circle cx="229.7" cy="706.7" r="4.95"/>
<circle cx="228.9" cy="705.7" r="4.95"/>
<circle cx="228.3" cy="704.5" r="4.95"/>
<circle cx="226.1" cy="704.2" r="4.95"/>
<circle cx="227.2" cy="702.1" r="4.95"/>
<circle cx="224.7" cy="702.0" r="4.95"/>
<circle cx="225.1" cy="700.3" r="4.95"/>
<circle cx="224.2" cy="699.2" r="4.95"/>
<circle cx="223.5" cy="698.2" r="4.95"/>
<circle cx="223.0" cy="696.9" r="4.95"/>
<circle cx="222.1" cy="695.9" r="4.95"/>
<circle cx="221.7" cy="694.7" r="4.95"/>
<circle cx="198.7" cy="682.0" r="4.95"/>
<circle cx="202.6" cy="686.8" r="4.95"/>
<circle cx="205.7" cy="690.2" r="4.95"/>
<circle cx="207.5" cy="692.9" r="4.95"/>
<circle cx="209.7" cy="694.9" r="4.95"/>
<circle cx="211.4" cy="696.9" r="4.95"/>
<circle cx="214.1" cy="696.0" r="4.95"/>
<circle cx="212.7" cy="697.0" r="4.95"/>
<circle cx="215.5" cy="697.9" r="4.95"/>
<circle cx="215.7" cy="698.5" r="4.95"/>
<circle cx="216.4" cy="698.0" r="4.95"/>
<circle cx="217.1" cy="696.2" r="4.95"/>
<circle cx="218.3" cy="696.4" r="4.95"/>
<circle cx="220.3" cy="697.8" r="4.95"/>
<circle cx="222.8" cy="694.1" r="4.95"/>
<circle cx="220.2" cy="694.0" r="4.95"/>
<circle cx="221.2" cy="692.1" r="4.95"/>
<circle cx="221.2" cy="690.6" r="4.95"/>
<circle cx="220.5" cy="689.6" r="4.95"/>
<circle cx="218.5" cy="689.2" r="4.95"/>
<circle cx="217.4" cy="688.3" r="4.95"/>
<circle cx="218.9" cy="686.1" r="4.95"/>
<circle cx="218.7" cy="684.8" r="4.95"/>
<circle cx="216.1" cy="684.6" r="4.95"/>
<circle cx="217.0" cy="682.8" r="4.95"/>
<circle cx="214.5" cy="682.6" r="4.95"/>
<circle cx="215.3" cy="680.8" r="4.95"/>
<circle cx="214.4" cy="679.8" r="4.95"/>
<circle cx="214.8" cy="678.2" r="4.95"/>
<circle cx="213.1" cy="677.5" r="4.95"/>
<circle cx="189.9" cy="665.6" r="4.95"/>
<circle cx="194.7" cy="669.7" r="4.95"/>
<circle cx="197.8" cy="672.7" r="4.95"/>
<circle cx="200.2" cy="675.2" r="4.95"/>
<circle cx="202.4" cy="676.9" r="4.95"/>
<circle cx="203.8" cy="677.5" r="4.95"/>
<circle cx="205.7" cy="679.2" r="4.95"/>
<circle cx="206.0" cy="677.6" r="4.95"/>
<circle cx="206.1" cy="678.0" r="4.95"/>
<circle cx="207.6" cy="678.3" r="4.95"/>
<circle cx="208.0" cy="679.9" r="4.95"/>
<circle cx="210.2" cy="679.0" r="4.95"/>
<circle cx="212.2" cy="679.1" r="4.95"/>
<circle cx="212.1" cy="679.2" r="4.95"/>
<circle cx="212.9" cy="677.5" r="4.95"/>
<circle cx="212.5" cy="676.3" r="4.95"/>
<circle cx="213.8" cy="674.5" r="4.95"/>
<circle cx="212.0" cy="673.7" r="4.95"/>
<circle cx="211.5" cy="672.4" r="4.95"/>
<circle cx="212.7" cy="670.8" r="4.95"/>
<circle cx="212.3" cy="669.5" r="4.95"/>
<circle cx="211.5" cy="668.4" r="4.95"/>
<circle cx="210.1" cy="667.3" r="4.95"/>
<circle cx="212.0" cy="665.6" r="4.95"/>
<circle cx="210.3" cy="664.5" r="4.95"/>
<circle cx="210.4" cy="663.2" r="4.95"/>
<circle cx="210.8" cy="661.8" r="4.95"/>
<circle cx="210.4" cy="660.5" r="4.95"/>
</g>
<g fill="none" stroke="#000" stroke-width="1.7">
<rect x="207.6" y="656.8" width="7.4" height="7.4"/>
<rect x="211.3" y="642.5" width="7.4" height="7.4"/>
<rect x="223.3" y="630.0" width="7.4" height="7.4"/>
<rect x="245.6" y="620.0" width="7.4" height="7.4"/>
<rect x="278.8" y="613.8" width="7.4" height="7.4"/>
<rect x="323.3" y="613.0" width="7.4" height="7.4"/>
<rect x="378.1" y="618.8" width="7.4" height="7.4"/>
<rect x="440.1" y="632.5" width="7.4" height="7.4"/>
<rect x="503.3" y="655.5" width="7.4" height="7.4"/>
<rect x="563.8" y="688.0" width="7.4" height="7.4"/>
<rect x="611.3" y="729.3" width="7.4" height="7.4"/>
<rect x="639.5" y="776.3" width="7.4" height="7.4"/>
<rect x="642.8" y="825.8" width="7.4" height="7.4"/>
<rect x="620.5" y="873.0" width="7.4" height="7.4"/>
<rect x="576.8" y="912.0" width="7.4" height="7.4"/>
<rect x="520.8" y="940.5" width="7.4" height="7.4"/>
<rect x="461.8" y="956.8" width="7.4" height="7.4"/>
<rect x="406.3" y="961.8" width="7.4" height="7.4"/>
<rect x="360.1" y="956.5" width="7.4" height="7.4"/>
<rect x="325.8" y="943.3" width="7.4" height="7.4"/>
<rect x="301.3" y="924.5" width="7.4" height="7.4"/>
<rect x="284.3" y="900.0" width="7.4" height="7.4"/>
<rect x="274.3" y="872.5" width="7.4" height="7.4"/>
<rect x="267.6" y="844.0" width="7.4" height="7.4"/>
<rect x="262.6" y="813.3" width="7.4" height="7.4"/>
<rect x="257.1" y="784.3" width="7.4" height="7.4"/>
<rect x="249.3" y="757.0" width="7.4" height="7.4"/>
<rect x="240.1" y="732.5" width="7.4" height="7.4"/>
<rect x="229.1" y="710.3" width="7.4" height="7.4"/>
<rect x="218.8" y="690.5" width="7.4" height="7.4"/>
<rect x="210.8" y="673.3" width="7.4" height="7.4"/>
</g>
<path d="M192.5 653.8C192.3 650.4 192.5 647.9 193.8 645.0C195.0 642.1 196.9 639.2 200.0 636.2C203.1 633.3 207.5 630.2 212.5 627.5C217.5 624.8 223.8 622.3 230.0 620.0C236.2 617.7 243.3 615.4 250.0 613.8C256.7 612.1 262.5 611.0 270.0 610.0C277.5 609.0 286.7 608.3 295.0 608.0C303.3 607.7 313.3 607.8 320.0 608.0C326.7 608.2 329.2 608.7 335.0 609.2C340.8 609.8 347.5 610.3 355.0 611.2C362.5 612.2 371.7 613.5 380.0 615.0C388.3 616.5 396.7 618.3 405.0 620.0C413.3 621.7 421.7 623.0 430.0 625.0C438.3 627.0 446.7 629.2 455.0 631.8C463.3 634.2 473.3 637.6 480.0 640.0C486.7 642.4 489.2 643.7 495.0 646.0C500.8 648.3 507.5 650.4 515.0 653.8C522.5 657.1 531.7 661.9 540.0 666.2C548.3 670.6 556.7 674.8 565.0 680.0C573.3 685.2 581.7 691.0 590.0 697.5C598.3 704.0 607.5 711.7 615.0 718.8C622.5 725.8 629.8 734.4 635.0 740.0C640.2 745.6 643.1 747.9 646.5 752.5C649.9 757.1 653.0 762.5 655.2 767.5C657.5 772.5 659.0 777.5 660.2 782.5C661.5 787.5 662.2 792.5 662.8 797.5C663.2 802.5 663.4 807.5 663.2 812.5C663.1 817.5 662.7 822.5 662.0 827.5C661.3 832.5 660.3 837.9 659.0 842.5C657.7 847.1 656.0 850.8 654.0 855.0C652.0 859.2 649.1 864.2 647.0 868.0C644.9 871.8 644.3 873.4 641.5 877.5C638.7 881.6 634.4 887.5 630.0 892.5C625.6 897.5 620.4 902.5 615.0 907.5C609.6 912.5 603.8 917.9 597.5 922.5C591.2 927.1 584.6 931.0 577.5 935.0C570.4 939.0 562.5 942.7 555.0 946.2C547.5 949.8 540.0 953.3 532.5 956.2C525.0 959.2 517.1 961.6 510.0 963.8C502.9 965.9 495.3 967.8 490.0 969.2C484.7 970.7 483.8 971.4 478.0 972.7C472.2 974.0 463.0 975.9 455.0 977.0C447.0 978.1 438.3 979.0 430.0 979.5C421.7 980.0 413.3 980.2 405.0 980.0C396.7 979.8 388.0 979.4 380.0 978.5C372.0 977.6 363.7 975.8 357.0 974.5C350.3 973.2 345.8 972.3 340.0 970.5C334.2 968.7 327.9 966.3 322.5 963.8C317.1 961.2 312.1 958.3 307.5 955.0C302.9 951.7 299.0 947.9 295.0 943.8C291.0 939.6 287.1 934.8 283.8 930.0C280.4 925.2 277.5 920.0 275.0 915.0C272.5 910.0 270.6 905.4 268.8 900.0C266.9 894.6 265.2 888.3 263.8 882.5C262.3 876.7 260.9 870.2 260.0 865.0C259.1 859.8 258.8 856.4 258.1 851.0C257.4 845.6 256.5 838.9 255.6 832.5C254.7 826.1 253.7 819.2 252.8 812.5C251.9 805.8 251.3 799.2 250.0 792.5C248.7 785.8 246.9 779.2 245.0 772.5C243.1 765.8 241.2 759.2 238.8 752.5C236.2 745.8 233.0 738.8 230.0 732.5C227.0 726.2 223.0 718.8 220.8 715.0C218.5 711.2 218.5 713.3 216.2 710.0C214.0 706.7 210.2 700.2 207.5 695.0C204.8 689.8 202.1 683.8 200.0 678.8C197.9 673.8 196.2 669.2 195.0 665.0C193.8 660.8 192.7 657.1 192.5 653.8Z" fill="none" stroke="#00f" stroke-width="3.8" stroke-linejoin="round"/>
<circle cx="353.2" cy="766.5" r="5.3" fill="none" stroke="#f00" stroke-width="1.7"/>
<line x1="326.2" y1="795.8" x2="379.9" y2="795.8" stroke="#00f" stroke-width="3.7"/>
<g font-family="Liberation Sans, Arial, Helvetica, sans-serif" font-size="22.5" fill="#000" stroke="#000" stroke-width="0.2">
<text x="383.2" y="775.0">Numerical Integration</text>
<text x="383.2" y="803.9">SSM</text>
</g>
<g font-family="Liberation Sans, Arial, Helvetica, sans-serif" font-size="24.4" fill="#000" stroke="#000" stroke-width="0.25">
<text x="94.8" y="1069.3" text-anchor="middle">1</text>
<text x="209.1" y="1069.3" text-anchor="middle">1.5</text>
<text x="324.1" y="1069.3" text-anchor="middle">2</text>
<text x="439.1" y="1069.3" text-anchor="middle">2.5</text>
<text x="554.1" y="1069.3" text-anchor="middle">3</text>
<text x="686.3" y="1069.3" text-anchor="end">3.5</text>
<text x="85.9" y="604.8" text-anchor="end">60</text>
<text x="85.9" y="667.6" text-anchor="end">40</text>
<text x="85.9" y="730.4" text-anchor="end">20</text>
<text x="85.9" y="793.2" text-anchor="end">0</text>
<text x="85.9" y="856.0" text-anchor="end">-20</text>
<text x="85.9" y="918.8" text-anchor="end">-40</text>
<text x="85.9" y="981.6" text-anchor="end">-60</text>
<text x="85.9" y="1044.4" text-anchor="end">-80</text>
</g>
<text font-family="Liberation Serif, Times New Roman, serif" font-size="27.5" fill="#000" stroke="#000" stroke-width="0.2"><tspan x="255.9" y="580.6" textLength="26.3" lengthAdjust="spacingAndGlyphs">B:</tspan> <tspan x="290.8" y="580.6" textLength="19.7" lengthAdjust="spacingAndGlyphs">Ω</tspan><tspan x="310.1" y="580.6" textLength="20.9" lengthAdjust="spacingAndGlyphs">=</tspan><tspan x="331.8" y="580.6" textLength="89.3" lengthAdjust="spacingAndGlyphs">34.0245</tspan> <tspan x="431.5" y="582.1" font-size="32.7" textLength="6.1" lengthAdjust="spacingAndGlyphs">[</tspan><tspan x="438.2" y="580.6" textLength="39.3" lengthAdjust="spacingAndGlyphs">rad</tspan><tspan x="478.6" y="587.3" font-size="40.6" textLength="11.3" lengthAdjust="spacingAndGlyphs" stroke="none">/</tspan><tspan x="490.6" y="580.6" textLength="10.7" lengthAdjust="spacingAndGlyphs">s</tspan><tspan x="500.5" y="582.1" font-size="32.7" textLength="6.4" lengthAdjust="spacingAndGlyphs">]</tspan></text>
<text font-family="Liberation Serif, Times New Roman, serif" font-size="27.5" fill="#000" stroke="#000" stroke-width="0.2"><tspan x="322.2" y="1100.4" textLength="16.2" lengthAdjust="spacingAndGlyphs" font-style="italic">w</tspan><tspan x="340.6" y="1104.4" font-size="18.0" textLength="22.6" lengthAdjust="spacingAndGlyphs">0.5</tspan><tspan x="365.5" y="1104.4" font-size="18.0" textLength="5.5" lengthAdjust="spacingAndGlyphs" font-style="italic">l</tspan> <tspan x="382.9" y="1101.9" font-size="32.7" textLength="6.1" lengthAdjust="spacingAndGlyphs">[</tspan><tspan x="389.7" y="1100.4" textLength="44.8" lengthAdjust="spacingAndGlyphs">mm</tspan><tspan x="434.1" y="1101.9" font-size="32.7" textLength="6.1" lengthAdjust="spacingAndGlyphs">]</tspan></text>
<text font-family="Liberation Serif, Times New Roman, serif" font-size="27.5" fill="#000" stroke="#000" stroke-width="0.2" transform="translate(35.2 888.0) rotate(-90)"><tspan x="0.0" y="0.0" textLength="16.7" lengthAdjust="spacingAndGlyphs" font-style="italic">ẇ</tspan><tspan x="19.4" y="4.0" font-size="18.0" textLength="23.6" lengthAdjust="spacingAndGlyphs">0.5</tspan><tspan x="44.3" y="4.0" font-size="18.0" textLength="5.3" lengthAdjust="spacingAndGlyphs" font-style="italic">l</tspan> <tspan x="61.5" y="1.5" font-size="32.7" textLength="6.0" lengthAdjust="spacingAndGlyphs">[</tspan><tspan x="67.9" y="0.0" textLength="45.1" lengthAdjust="spacingAndGlyphs">mm</tspan><tspan x="114.2" y="6.7" font-size="40.6" textLength="10.5" lengthAdjust="spacingAndGlyphs" stroke="none">/</tspan><tspan x="125.6" y="0.0" textLength="11.5" lengthAdjust="spacingAndGlyphs">s</tspan><tspan x="136.6" y="1.5" font-size="32.7" textLength="5.9" lengthAdjust="spacingAndGlyphs">]</tspan></text>
</svg>
</body></html>
